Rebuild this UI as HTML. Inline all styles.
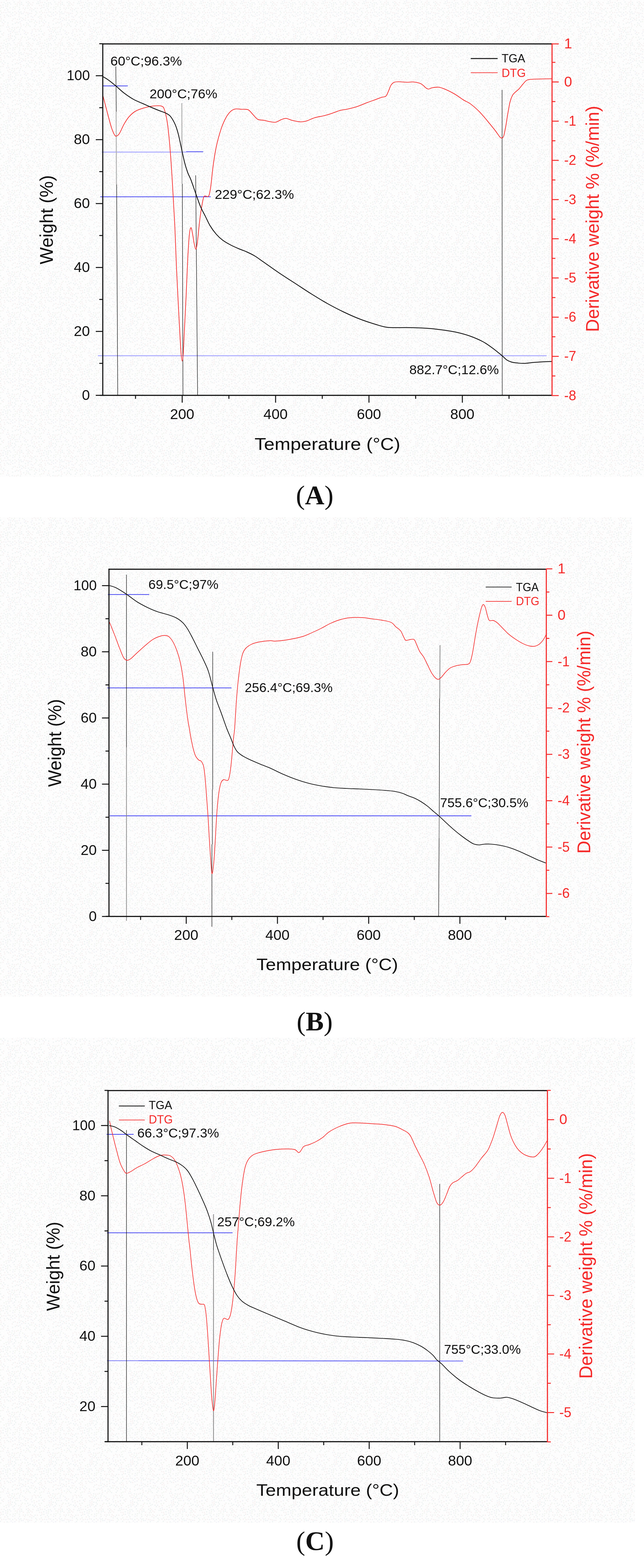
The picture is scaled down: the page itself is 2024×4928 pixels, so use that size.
<!DOCTYPE html>
<html><head><meta charset="utf-8"><title>TGA / DTG curves</title>
<style>
html,body{margin:0;padding:0;background:#fff;}
body{width:2024px;height:4928px;overflow:hidden;}
svg{display:block;}
text{white-space:pre;}
</style></head><body>
<svg width="2024" height="4928" viewBox="0 0 2024 4928">
<defs><pattern id="nz" width="128" height="128" patternUnits="userSpaceOnUse"><rect width="128" height="128" fill="#fdfdfd"/><circle cx="57.9" cy="71.7" r="1.9" fill="#ebf1f1"/><circle cx="118.3" cy="59.6" r="1.9" fill="#ffffff"/><circle cx="65.0" cy="75.2" r="1.9" fill="#f6efef"/><circle cx="23.6" cy="65.5" r="1.9" fill="#ffffff"/><circle cx="80.6" cy="101.5" r="1.9" fill="#f5f0f0"/><circle cx="12.0" cy="38.8" r="1.9" fill="#f5f0f0"/><circle cx="11.6" cy="103.6" r="1.9" fill="#f6efef"/><circle cx="88.8" cy="5.4" r="1.9" fill="#f5f0f0"/><circle cx="125.7" cy="123.5" r="1.9" fill="#f6efef"/><circle cx="-2.3" cy="123.5" r="1.9" fill="#f6efef"/><circle cx="83.7" cy="78.8" r="1.9" fill="#f0f4ee"/><circle cx="20.2" cy="1.9" r="1.9" fill="#f5f0f0"/><circle cx="20.2" cy="129.9" r="1.9" fill="#f5f0f0"/><circle cx="67.6" cy="7.6" r="1.9" fill="#ebf1f1"/><circle cx="24.3" cy="31.0" r="1.9" fill="#edf2f2"/><circle cx="3.9" cy="59.4" r="1.9" fill="#f6efef"/><circle cx="56.4" cy="107.8" r="1.9" fill="#f0f4ee"/><circle cx="66.4" cy="82.0" r="1.9" fill="#f6efef"/><circle cx="58.5" cy="35.6" r="1.9" fill="#f0f0f6"/><circle cx="107.5" cy="90.6" r="1.9" fill="#f5f0f0"/><circle cx="40.4" cy="29.4" r="1.9" fill="#f0f0f6"/><circle cx="37.0" cy="9.0" r="1.9" fill="#ffffff"/><circle cx="98.1" cy="51.3" r="1.9" fill="#f0f0f6"/><circle cx="108.4" cy="49.5" r="1.9" fill="#f5f0f0"/><circle cx="122.6" cy="108.5" r="1.9" fill="#f0f0f6"/><circle cx="0.1" cy="26.8" r="1.9" fill="#ebf1f1"/><circle cx="128.1" cy="26.8" r="1.9" fill="#ebf1f1"/><circle cx="125.5" cy="50.9" r="1.9" fill="#f0f4ee"/><circle cx="-2.5" cy="50.9" r="1.9" fill="#f0f4ee"/><circle cx="9.3" cy="80.6" r="1.9" fill="#f5f0f0"/><circle cx="99.6" cy="34.5" r="1.9" fill="#edf2f2"/><circle cx="123.4" cy="97.0" r="1.9" fill="#edf2f2"/><circle cx="15.1" cy="31.5" r="1.9" fill="#f5f0f0"/><circle cx="12.9" cy="7.7" r="1.9" fill="#edf2f2"/><circle cx="102.0" cy="22.7" r="1.9" fill="#ffffff"/><circle cx="71.6" cy="57.3" r="1.9" fill="#ebf1f1"/><circle cx="24.4" cy="93.7" r="1.9" fill="#f6efef"/><circle cx="16.8" cy="82.4" r="1.9" fill="#ffffff"/><circle cx="14.9" cy="53.9" r="1.9" fill="#f5f0f0"/><circle cx="124.3" cy="102.8" r="1.9" fill="#ffffff"/><circle cx="38.9" cy="113.3" r="1.9" fill="#ebf1f1"/><circle cx="27.0" cy="50.5" r="1.9" fill="#ebf1f1"/><circle cx="109.4" cy="82.2" r="1.9" fill="#ebf1f1"/><circle cx="12.8" cy="126.6" r="1.9" fill="#f0f4ee"/><circle cx="12.8" cy="-1.4" r="1.9" fill="#f0f4ee"/><circle cx="98.9" cy="42.1" r="1.9" fill="#f5f0f0"/><circle cx="11.5" cy="74.6" r="1.9" fill="#f6efef"/><circle cx="31.1" cy="77.0" r="1.9" fill="#ffffff"/><circle cx="47.6" cy="58.0" r="1.9" fill="#f6efef"/><circle cx="73.5" cy="110.9" r="1.9" fill="#ffffff"/><circle cx="23.4" cy="19.7" r="1.9" fill="#f0f4ee"/><circle cx="116.3" cy="104.7" r="1.9" fill="#ffffff"/><circle cx="31.9" cy="24.3" r="1.9" fill="#f0f4ee"/><circle cx="94.6" cy="120.4" r="1.9" fill="#edf2f2"/><circle cx="25.2" cy="121.6" r="1.9" fill="#edf2f2"/><circle cx="112.9" cy="77.3" r="1.9" fill="#edf2f2"/><circle cx="53.9" cy="13.3" r="1.9" fill="#f6efef"/><circle cx="5.0" cy="123.2" r="1.9" fill="#ffffff"/><circle cx="30.5" cy="90.2" r="1.9" fill="#f6efef"/><circle cx="32.9" cy="105.4" r="1.9" fill="#edf2f2"/><circle cx="76.3" cy="37.6" r="1.9" fill="#f5f0f0"/><circle cx="8.8" cy="29.2" r="1.9" fill="#ffffff"/><circle cx="117.4" cy="26.1" r="1.9" fill="#f6efef"/><circle cx="2.1" cy="34.5" r="1.9" fill="#f0f4ee"/><circle cx="130.1" cy="34.5" r="1.9" fill="#f0f4ee"/><circle cx="57.1" cy="7.7" r="1.9" fill="#f6efef"/><circle cx="22.6" cy="47.2" r="1.9" fill="#edf2f2"/><circle cx="73.2" cy="16.8" r="1.9" fill="#f6efef"/><circle cx="46.4" cy="114.0" r="1.9" fill="#edf2f2"/><circle cx="125.5" cy="84.1" r="1.9" fill="#f0f4ee"/><circle cx="-2.5" cy="84.1" r="1.9" fill="#f0f4ee"/><circle cx="88.5" cy="74.8" r="1.9" fill="#f0f0f6"/><circle cx="2.3" cy="116.5" r="1.9" fill="#f0f4ee"/><circle cx="130.3" cy="116.5" r="1.9" fill="#f0f4ee"/><circle cx="89.7" cy="123.2" r="1.9" fill="#edf2f2"/><circle cx="2.7" cy="81.4" r="1.9" fill="#f0f4ee"/><circle cx="130.7" cy="81.4" r="1.9" fill="#f0f4ee"/><circle cx="61.7" cy="93.5" r="1.9" fill="#edf2f2"/><circle cx="40.8" cy="127.9" r="1.9" fill="#f0f0f6"/><circle cx="40.8" cy="-0.1" r="1.9" fill="#f0f0f6"/><circle cx="94.3" cy="90.1" r="1.9" fill="#ffffff"/><circle cx="101.5" cy="117.1" r="1.9" fill="#ffffff"/><circle cx="45.0" cy="87.7" r="1.9" fill="#f5f0f0"/><circle cx="115.3" cy="111.5" r="1.9" fill="#f6efef"/><circle cx="53.4" cy="101.2" r="1.9" fill="#f5f0f0"/><circle cx="80.0" cy="48.9" r="1.9" fill="#edf2f2"/><circle cx="74.6" cy="77.9" r="1.9" fill="#edf2f2"/><circle cx="94.1" cy="74.4" r="1.9" fill="#ffffff"/><circle cx="10.7" cy="96.0" r="1.9" fill="#ffffff"/><circle cx="61.6" cy="29.5" r="1.9" fill="#edf2f2"/><circle cx="89.4" cy="63.6" r="1.9" fill="#edf2f2"/><circle cx="78.7" cy="117.8" r="1.9" fill="#f0f4ee"/><circle cx="32.7" cy="1.4" r="1.9" fill="#ffffff"/><circle cx="32.7" cy="129.4" r="1.9" fill="#ffffff"/><circle cx="38.5" cy="86.8" r="1.9" fill="#ebf1f1"/><circle cx="115.9" cy="84.5" r="1.9" fill="#ffffff"/><circle cx="56.6" cy="114.1" r="1.9" fill="#ffffff"/><circle cx="17.4" cy="63.5" r="1.9" fill="#ffffff"/><circle cx="107.1" cy="108.6" r="1.9" fill="#f0f4ee"/><circle cx="80.1" cy="63.2" r="1.9" fill="#edf2f2"/><circle cx="40.4" cy="107.4" r="1.9" fill="#ffffff"/><circle cx="125.7" cy="57.9" r="1.9" fill="#f6efef"/><circle cx="-2.3" cy="57.9" r="1.9" fill="#f6efef"/><circle cx="111.7" cy="5.3" r="1.9" fill="#ffffff"/><circle cx="39.6" cy="101.3" r="1.9" fill="#f6efef"/><circle cx="2.4" cy="17.4" r="1.9" fill="#f6efef"/><circle cx="130.4" cy="17.4" r="1.9" fill="#f6efef"/><circle cx="106.2" cy="30.4" r="1.9" fill="#edf2f2"/><circle cx="80.5" cy="57.1" r="1.9" fill="#f6efef"/><circle cx="80.6" cy="83.8" r="1.9" fill="#f5f0f0"/><circle cx="103.3" cy="122.7" r="1.9" fill="#ebf1f1"/><circle cx="87.6" cy="25.5" r="1.9" fill="#f0f4ee"/><circle cx="60.8" cy="22.9" r="1.9" fill="#f0f4ee"/><circle cx="34.9" cy="44.3" r="1.9" fill="#f0f0f6"/><circle cx="116.0" cy="11.2" r="1.9" fill="#edf2f2"/><circle cx="119.4" cy="92.5" r="1.9" fill="#f6efef"/><circle cx="48.2" cy="72.8" r="1.9" fill="#ebf1f1"/><circle cx="92.4" cy="104.7" r="1.9" fill="#ffffff"/><circle cx="82.1" cy="91.9" r="1.9" fill="#ffffff"/><circle cx="27.3" cy="115.2" r="1.9" fill="#f6efef"/><circle cx="68.7" cy="101.2" r="1.9" fill="#ffffff"/><circle cx="62.4" cy="3.6" r="1.9" fill="#f6efef"/><circle cx="103.6" cy="8.2" r="1.9" fill="#f5f0f0"/><circle cx="18.0" cy="19.0" r="1.9" fill="#f0f0f6"/><circle cx="121.5" cy="11.0" r="1.9" fill="#edf2f2"/><circle cx="37.1" cy="93.3" r="1.9" fill="#f0f4ee"/><circle cx="108.0" cy="71.7" r="1.9" fill="#f0f4ee"/><circle cx="39.9" cy="48.8" r="1.9" fill="#f0f0f6"/><circle cx="108.2" cy="115.3" r="1.9" fill="#f5f0f0"/><circle cx="26.7" cy="108.9" r="1.9" fill="#f0f0f6"/><circle cx="124.0" cy="67.1" r="1.9" fill="#f0f0f6"/><circle cx="73.3" cy="25.7" r="1.9" fill="#f5f0f0"/><circle cx="68.6" cy="64.4" r="1.9" fill="#f0f0f6"/><circle cx="77.5" cy="3.6" r="1.9" fill="#ffffff"/><circle cx="122.5" cy="118.2" r="1.9" fill="#f0f4ee"/><circle cx="34.5" cy="60.6" r="1.9" fill="#ffffff"/><circle cx="61.0" cy="40.6" r="1.9" fill="#edf2f2"/><circle cx="24.5" cy="79.1" r="1.9" fill="#f6efef"/><circle cx="118.4" cy="16.6" r="1.9" fill="#ffffff"/><circle cx="99.7" cy="2.9" r="1.9" fill="#ffffff"/><circle cx="99.7" cy="130.9" r="1.9" fill="#ffffff"/><circle cx="87.9" cy="41.2" r="1.9" fill="#f6efef"/><circle cx="45.5" cy="79.3" r="1.9" fill="#ffffff"/><circle cx="67.8" cy="20.4" r="1.9" fill="#ffffff"/><circle cx="115.5" cy="40.4" r="1.9" fill="#f0f4ee"/><circle cx="101.1" cy="16.1" r="1.9" fill="#f6efef"/><circle cx="51.6" cy="87.7" r="1.9" fill="#f5f0f0"/><circle cx="87.3" cy="116.7" r="1.9" fill="#edf2f2"/><circle cx="64.4" cy="87.8" r="1.9" fill="#edf2f2"/><circle cx="24.2" cy="9.0" r="1.9" fill="#edf2f2"/><circle cx="107.5" cy="126.8" r="1.9" fill="#ebf1f1"/><circle cx="107.5" cy="-1.2" r="1.9" fill="#ebf1f1"/><circle cx="41.8" cy="59.8" r="1.9" fill="#edf2f2"/><circle cx="66.0" cy="55.1" r="1.9" fill="#f5f0f0"/><circle cx="23.2" cy="58.1" r="1.9" fill="#ffffff"/><circle cx="90.2" cy="110.2" r="1.9" fill="#ffffff"/><circle cx="33.1" cy="116.6" r="1.9" fill="#f6efef"/><circle cx="95.3" cy="99.6" r="1.9" fill="#ffffff"/><circle cx="88.9" cy="98.2" r="1.9" fill="#ffffff"/><circle cx="92.5" cy="9.0" r="1.9" fill="#f5f0f0"/><circle cx="1.4" cy="45.5" r="1.9" fill="#edf2f2"/><circle cx="129.4" cy="45.5" r="1.9" fill="#edf2f2"/><circle cx="68.2" cy="49.9" r="1.9" fill="#ffffff"/><circle cx="125.5" cy="2.9" r="1.9" fill="#f0f0f6"/><circle cx="125.5" cy="130.9" r="1.9" fill="#f0f0f6"/><circle cx="-2.5" cy="2.9" r="1.9" fill="#f0f0f6"/><circle cx="-2.5" cy="130.9" r="1.9" fill="#f0f0f6"/><circle cx="32.8" cy="51.4" r="1.9" fill="#f6efef"/><circle cx="48.1" cy="12.6" r="1.9" fill="#f0f4ee"/><circle cx="123.8" cy="72.7" r="1.9" fill="#edf2f2"/><circle cx="76.5" cy="97.2" r="1.9" fill="#f0f0f6"/><circle cx="121.0" cy="53.9" r="1.9" fill="#edf2f2"/><circle cx="46.8" cy="36.6" r="1.9" fill="#f5f0f0"/><circle cx="83.9" cy="71.8" r="1.9" fill="#edf2f2"/><circle cx="20.0" cy="96.6" r="1.9" fill="#ffffff"/><circle cx="9.4" cy="115.9" r="1.9" fill="#ffffff"/><circle cx="55.0" cy="61.1" r="1.9" fill="#f6efef"/><circle cx="124.6" cy="31.2" r="1.9" fill="#ffffff"/><circle cx="67.0" cy="120.0" r="1.9" fill="#f6efef"/><circle cx="56.7" cy="85.5" r="1.9" fill="#f0f4ee"/><circle cx="99.6" cy="67.9" r="1.9" fill="#f0f4ee"/><circle cx="94.0" cy="30.5" r="1.9" fill="#f5f0f0"/><circle cx="14.6" cy="114.3" r="1.9" fill="#ffffff"/><circle cx="100.4" cy="80.0" r="1.9" fill="#ffffff"/><circle cx="96.4" cy="24.3" r="1.9" fill="#f6efef"/><circle cx="5.1" cy="7.8" r="1.9" fill="#f6efef"/><circle cx="79.8" cy="13.1" r="1.9" fill="#ffffff"/><circle cx="11.1" cy="86.6" r="1.9" fill="#ffffff"/><circle cx="27.0" cy="44.0" r="1.9" fill="#ffffff"/><circle cx="9.5" cy="15.3" r="1.9" fill="#ebf1f1"/><circle cx="103.7" cy="47.2" r="1.9" fill="#ffffff"/><circle cx="83.7" cy="126.6" r="1.9" fill="#f5f0f0"/><circle cx="83.7" cy="-1.4" r="1.9" fill="#f5f0f0"/><circle cx="41.6" cy="70.2" r="1.9" fill="#ffffff"/><circle cx="54.7" cy="47.3" r="1.9" fill="#ffffff"/><circle cx="27.3" cy="84.7" r="1.9" fill="#edf2f2"/><circle cx="36.2" cy="18.3" r="1.9" fill="#ffffff"/><circle cx="45.8" cy="92.9" r="1.9" fill="#f0f4ee"/><circle cx="117.6" cy="120.3" r="1.9" fill="#ffffff"/><circle cx="46.8" cy="46.5" r="1.9" fill="#f0f0f6"/><circle cx="25.0" cy="72.2" r="1.9" fill="#edf2f2"/><circle cx="112.8" cy="36.0" r="1.9" fill="#ebf1f1"/><circle cx="2.8" cy="66.0" r="1.9" fill="#f0f4ee"/><circle cx="130.8" cy="66.0" r="1.9" fill="#f0f4ee"/><circle cx="69.7" cy="72.6" r="1.9" fill="#ffffff"/><circle cx="94.3" cy="115.1" r="1.9" fill="#ffffff"/><circle cx="83.1" cy="31.4" r="1.9" fill="#ffffff"/><circle cx="28.2" cy="98.0" r="1.9" fill="#f5f0f0"/><circle cx="63.2" cy="68.8" r="1.9" fill="#f0f0f6"/><circle cx="109.2" cy="103.2" r="1.9" fill="#ffffff"/><circle cx="102.7" cy="54.0" r="1.9" fill="#f0f0f6"/><circle cx="53.8" cy="18.7" r="1.9" fill="#f0f4ee"/><circle cx="94.9" cy="126.8" r="1.9" fill="#ffffff"/><circle cx="94.9" cy="-1.2" r="1.9" fill="#ffffff"/><circle cx="48.1" cy="21.5" r="1.9" fill="#f0f4ee"/><circle cx="104.6" cy="61.4" r="1.9" fill="#f5f0f0"/><circle cx="47.6" cy="102.0" r="1.9" fill="#edf2f2"/><circle cx="111.3" cy="66.1" r="1.9" fill="#ebf1f1"/><circle cx="34.1" cy="68.4" r="1.9" fill="#ffffff"/><circle cx="61.5" cy="60.0" r="1.9" fill="#ebf1f1"/><circle cx="20.2" cy="106.5" r="1.9" fill="#ffffff"/><circle cx="39.9" cy="39.8" r="1.9" fill="#ebf1f1"/><circle cx="59.1" cy="123.8" r="1.9" fill="#f0f4ee"/><circle cx="93.6" cy="42.2" r="1.9" fill="#f0f0f6"/><circle cx="18.0" cy="12.1" r="1.9" fill="#ebf1f1"/><circle cx="98.2" cy="105.1" r="1.9" fill="#f0f0f6"/><circle cx="52.8" cy="2.0" r="1.9" fill="#ffffff"/><circle cx="52.8" cy="130.0" r="1.9" fill="#ffffff"/><circle cx="13.6" cy="48.3" r="1.9" fill="#f5f0f0"/><circle cx="105.6" cy="78.3" r="1.9" fill="#ffffff"/><circle cx="115.6" cy="70.2" r="1.9" fill="#f6efef"/><circle cx="45.1" cy="64.1" r="1.9" fill="#ffffff"/><circle cx="18.1" cy="91.3" r="1.9" fill="#ffffff"/><circle cx="80.3" cy="25.3" r="1.9" fill="#edf2f2"/><circle cx="73.8" cy="89.2" r="1.9" fill="#ffffff"/><circle cx="42.1" cy="118.9" r="1.9" fill="#ffffff"/><circle cx="71.7" cy="33.8" r="1.9" fill="#ffffff"/><circle cx="116.4" cy="127.0" r="1.9" fill="#f5f0f0"/><circle cx="116.4" cy="-1.0" r="1.9" fill="#f5f0f0"/><circle cx="4.1" cy="23.0" r="1.9" fill="#f6efef"/><circle cx="72.7" cy="42.5" r="1.9" fill="#f0f0f6"/><circle cx="85.9" cy="18.5" r="1.9" fill="#f5f0f0"/><circle cx="60.1" cy="52.7" r="1.9" fill="#f0f0f6"/><circle cx="52.4" cy="55.5" r="1.9" fill="#ffffff"/><circle cx="76.0" cy="8.9" r="1.9" fill="#ffffff"/><circle cx="67.4" cy="30.6" r="1.9" fill="#ffffff"/><circle cx="30.2" cy="8.8" r="1.9" fill="#ebf1f1"/><circle cx="15.8" cy="68.8" r="1.9" fill="#edf2f2"/><circle cx="31.2" cy="38.3" r="1.9" fill="#edf2f2"/><circle cx="91.3" cy="17.3" r="1.9" fill="#f0f4ee"/><circle cx="35.4" cy="81.9" r="1.9" fill="#ffffff"/><circle cx="49.2" cy="118.9" r="1.9" fill="#ebf1f1"/><circle cx="64.7" cy="108.2" r="1.9" fill="#f0f0f6"/><circle cx="121.8" cy="22.3" r="1.9" fill="#ffffff"/><circle cx="77.8" cy="30.1" r="1.9" fill="#f5f0f0"/><circle cx="18.7" cy="39.8" r="1.9" fill="#f0f0f6"/><circle cx="5.4" cy="40.2" r="1.9" fill="#f6efef"/><circle cx="7.8" cy="52.6" r="1.9" fill="#ffffff"/><circle cx="46.6" cy="27.7" r="1.9" fill="#f0f4ee"/><circle cx="29.4" cy="32.4" r="1.9" fill="#ffffff"/><circle cx="125.6" cy="78.2" r="1.9" fill="#ffffff"/><circle cx="-2.4" cy="78.2" r="1.9" fill="#ffffff"/><circle cx="83.2" cy="7.5" r="1.9" fill="#edf2f2"/><circle cx="50.3" cy="107.9" r="1.9" fill="#ebf1f1"/><circle cx="21.0" cy="26.1" r="1.9" fill="#edf2f2"/><circle cx="110.4" cy="26.2" r="1.9" fill="#edf2f2"/><circle cx="88.5" cy="46.4" r="1.9" fill="#ebf1f1"/><circle cx="119.9" cy="46.0" r="1.9" fill="#ffffff"/><circle cx="40.0" cy="54.3" r="1.9" fill="#ffffff"/><circle cx="124.9" cy="38.2" r="1.9" fill="#f5f0f0"/><circle cx="21.3" cy="85.1" r="1.9" fill="#f0f0f6"/><circle cx="19.3" cy="74.6" r="1.9" fill="#ffffff"/><circle cx="89.0" cy="87.9" r="1.9" fill="#ffffff"/><circle cx="41.6" cy="22.8" r="1.9" fill="#edf2f2"/><circle cx="98.8" cy="61.5" r="1.9" fill="#f5f0f0"/><circle cx="42.7" cy="97.2" r="1.9" fill="#ebf1f1"/><circle cx="90.5" cy="79.7" r="1.9" fill="#f0f4ee"/><circle cx="124.2" cy="17.1" r="1.9" fill="#f5f0f0"/><circle cx="88.0" cy="53.7" r="1.9" fill="#f6efef"/><circle cx="6.2" cy="91.3" r="1.9" fill="#ffffff"/><circle cx="62.5" cy="15.4" r="1.9" fill="#edf2f2"/><circle cx="29.1" cy="61.7" r="1.9" fill="#ffffff"/><circle cx="10.0" cy="23.4" r="1.9" fill="#ebf1f1"/><circle cx="7.4" cy="70.5" r="1.9" fill="#f0f0f6"/><circle cx="101.4" cy="94.1" r="1.9" fill="#f6efef"/><circle cx="105.9" cy="98.3" r="1.9" fill="#ffffff"/><circle cx="51.6" cy="41.2" r="1.9" fill="#f5f0f0"/><circle cx="127.2" cy="8.3" r="1.9" fill="#f5f0f0"/><circle cx="-0.8" cy="8.3" r="1.9" fill="#f5f0f0"/><circle cx="70.3" cy="115.9" r="1.9" fill="#f0f4ee"/><circle cx="112.2" cy="93.1" r="1.9" fill="#f5f0f0"/><circle cx="75.6" cy="69.9" r="1.9" fill="#ffffff"/><circle cx="60.1" cy="46.3" r="1.9" fill="#f5f0f0"/><circle cx="27.9" cy="126.7" r="1.9" fill="#f0f0f6"/><circle cx="27.9" cy="-1.3" r="1.9" fill="#f0f0f6"/><circle cx="2.0" cy="110.0" r="1.9" fill="#ffffff"/><circle cx="130.0" cy="110.0" r="1.9" fill="#ffffff"/><circle cx="38.6" cy="64.9" r="1.9" fill="#f5f0f0"/><circle cx="65.6" cy="37.6" r="1.9" fill="#ebf1f1"/><circle cx="108.9" cy="13.4" r="1.9" fill="#ffffff"/><circle cx="108.8" cy="19.8" r="1.9" fill="#ffffff"/><circle cx="52.0" cy="78.4" r="1.9" fill="#ffffff"/><circle cx="82.3" cy="108.5" r="1.9" fill="#ebf1f1"/><circle cx="6.3" cy="107.0" r="1.9" fill="#ebf1f1"/><circle cx="76.0" cy="123.0" r="1.9" fill="#ffffff"/><circle cx="66.1" cy="96.5" r="1.9" fill="#ffffff"/><circle cx="106.4" cy="42.0" r="1.9" fill="#ffffff"/><circle cx="74.7" cy="61.5" r="1.9" fill="#f6efef"/><circle cx="96.4" cy="13.1" r="1.9" fill="#f6efef"/><circle cx="100.4" cy="28.0" r="1.9" fill="#f6efef"/><circle cx="93.9" cy="68.4" r="1.9" fill="#ebf1f1"/><circle cx="14.1" cy="120.4" r="1.9" fill="#ffffff"/><circle cx="62.2" cy="10.1" r="1.9" fill="#f6efef"/><circle cx="111.2" cy="122.5" r="1.9" fill="#f0f0f6"/><circle cx="1.9" cy="98.6" r="1.9" fill="#ebf1f1"/><circle cx="129.9" cy="98.6" r="1.9" fill="#ebf1f1"/><circle cx="67.3" cy="42.9" r="1.9" fill="#ebf1f1"/><circle cx="101.1" cy="100.1" r="1.9" fill="#f0f0f6"/><circle cx="44.5" cy="6.3" r="1.9" fill="#ebf1f1"/><circle cx="58.8" cy="77.2" r="1.9" fill="#ffffff"/><circle cx="65.1" cy="126.0" r="1.9" fill="#f5f0f0"/><circle cx="65.1" cy="-2.0" r="1.9" fill="#f5f0f0"/><circle cx="11.5" cy="63.7" r="1.9" fill="#edf2f2"/><circle cx="100.5" cy="111.8" r="1.9" fill="#f0f0f6"/><circle cx="90.4" cy="58.4" r="1.9" fill="#ffffff"/><circle cx="9.1" cy="34.5" r="1.9" fill="#ffffff"/><circle cx="112.6" cy="58.2" r="1.9" fill="#ffffff"/><circle cx="2.1" cy="53.3" r="1.9" fill="#f6efef"/><circle cx="130.1" cy="53.3" r="1.9" fill="#f6efef"/><circle cx="19.2" cy="123.4" r="1.9" fill="#f0f4ee"/><circle cx="39.7" cy="75.8" r="1.9" fill="#edf2f2"/><circle cx="119.7" cy="5.6" r="1.9" fill="#edf2f2"/><circle cx="10.0" cy="110.7" r="1.9" fill="#f6efef"/><circle cx="24.4" cy="14.4" r="1.9" fill="#f0f4ee"/><circle cx="77.2" cy="105.5" r="1.9" fill="#f0f0f6"/><circle cx="47.9" cy="52.6" r="1.9" fill="#ffffff"/><circle cx="25.8" cy="37.2" r="1.9" fill="#f5f0f0"/><circle cx="45.3" cy="124.5" r="1.9" fill="#ebf1f1"/><circle cx="60.5" cy="99.6" r="1.9" fill="#f0f0f6"/><circle cx="52.8" cy="69.9" r="1.9" fill="#f6efef"/><circle cx="112.5" cy="46.1" r="1.9" fill="#ebf1f1"/><circle cx="33.7" cy="13.1" r="1.9" fill="#f0f0f6"/><circle cx="62.5" cy="114.4" r="1.9" fill="#ffffff"/><circle cx="50.9" cy="31.3" r="1.9" fill="#ffffff"/><circle cx="114.8" cy="50.8" r="1.9" fill="#ffffff"/><circle cx="88.4" cy="12.5" r="1.9" fill="#ebf1f1"/><circle cx="68.2" cy="13.2" r="1.9" fill="#ebf1f1"/><circle cx="87.3" cy="103.5" r="1.9" fill="#f6efef"/><circle cx="2.0" cy="73.8" r="1.9" fill="#ffffff"/><circle cx="130.0" cy="73.8" r="1.9" fill="#ffffff"/><circle cx="33.0" cy="111.3" r="1.9" fill="#f6efef"/><circle cx="82.8" cy="39.7" r="1.9" fill="#f6efef"/><circle cx="22.8" cy="101.0" r="1.9" fill="#ffffff"/><circle cx="36.3" cy="120.8" r="1.9" fill="#edf2f2"/><circle cx="31.2" cy="121.9" r="1.9" fill="#f6efef"/><circle cx="71.3" cy="93.8" r="1.9" fill="#f0f4ee"/><circle cx="94.7" cy="83.1" r="1.9" fill="#ebf1f1"/><circle cx="7.1" cy="100.8" r="1.9" fill="#ffffff"/><circle cx="74.9" cy="51.1" r="1.9" fill="#ffffff"/><circle cx="127.3" cy="91.4" r="1.9" fill="#f0f4ee"/><circle cx="-0.7" cy="91.4" r="1.9" fill="#f0f4ee"/><circle cx="33.7" cy="98.9" r="1.9" fill="#f0f0f6"/><circle cx="112.9" cy="98.7" r="1.9" fill="#f5f0f0"/></pattern></defs>
<rect x="0" y="0" width="2024" height="1498.5" fill="url(#nz)"/>
<line x1="324.0" y1="270.0" x2="401.5" y2="270.0" stroke="#2a2af0" stroke-width="2"/>
<line x1="320.0" y1="478.0" x2="585.0" y2="478.0" stroke="#aaaaff" stroke-width="3"/>
<line x1="585.0" y1="477.0" x2="638.5" y2="477.0" stroke="#2a2af0" stroke-width="2"/>
<line x1="315.0" y1="618.5" x2="662.5" y2="618.5" stroke="#2a2af0" stroke-width="2"/>
<line x1="307.5" y1="1118.0" x2="1718.0" y2="1118.0" stroke="#aaaaff" stroke-width="3"/>
<line x1="364.0" y1="209.0" x2="365.5" y2="351.0" stroke="#111111" stroke-width="1.5"/>
<line x1="365.0" y1="351.0" x2="366.0" y2="580.0" stroke="#b4b4b4" stroke-width="3"/>
<line x1="366.5" y1="580.0" x2="370.0" y2="1242.0" stroke="#111111" stroke-width="1.5"/>
<line x1="571.5" y1="324.0" x2="572.0" y2="577.5" stroke="#b4b4b4" stroke-width="3"/>
<line x1="573.0" y1="577.5" x2="575.0" y2="1242.0" stroke="#111111" stroke-width="1.5"/>
<line x1="615.0" y1="551.0" x2="621.0" y2="1242.0" stroke="#111111" stroke-width="1.5"/>
<line x1="1578.0" y1="282.5" x2="1578.5" y2="1242.0" stroke="#111111" stroke-width="1.5"/>
<path d="M324.0,302.5 C325.8,309.6 330.7,328.8 335.0,345.0 C339.3,361.2 345.8,386.8 350.0,400.0 C354.2,413.2 357.3,419.4 360.0,424.0 C362.7,428.6 363.5,428.2 366.0,427.5 C368.5,426.8 371.0,426.2 375.0,420.0 C379.0,413.8 385.0,398.8 390.0,390.0 C395.0,381.2 399.2,374.2 405.0,367.5 C410.8,360.8 417.5,354.6 425.0,350.0 C432.5,345.4 442.5,342.5 450.0,340.0 C457.5,337.5 463.3,336.2 470.0,335.0 C476.7,333.8 483.8,332.8 490.0,332.5 C496.2,332.2 503.2,331.8 507.5,333.5 C511.8,335.2 513.1,334.8 516.0,342.5 C518.9,350.2 522.2,362.9 525.0,380.0 C527.8,397.1 530.0,417.5 532.5,445.0 C535.0,472.5 537.8,511.0 540.0,545.0 C542.2,579.0 544.3,619.2 546.0,649.0 C547.7,678.8 548.5,690.7 550.0,724.0 C551.5,757.3 553.3,811.5 555.0,849.0 C556.7,886.5 558.3,916.5 560.0,949.0 C561.7,981.5 563.5,1017.3 565.0,1044.0 C566.5,1070.7 567.8,1093.8 569.0,1109.0 C570.2,1124.2 571.3,1135.0 572.5,1135.0 C573.7,1135.0 574.8,1126.7 576.0,1109.0 C577.2,1091.3 578.5,1059.0 580.0,1029.0 C581.5,999.0 583.3,964.8 585.0,929.0 C586.7,893.2 588.3,845.7 590.0,814.0 C591.7,782.3 593.3,755.4 595.0,739.0 C596.7,722.6 598.3,716.3 600.0,715.5 C601.7,714.7 603.3,725.9 605.0,734.0 C606.7,742.1 608.3,755.8 610.0,764.0 C611.7,772.2 613.3,783.0 615.0,783.0 C616.7,783.0 617.9,778.8 620.0,764.0 C622.1,749.2 625.2,713.2 627.5,694.0 C629.8,674.8 631.9,661.3 634.0,649.0 C636.1,636.7 638.2,625.5 640.0,620.0 C641.8,614.5 642.3,616.7 645.0,616.0 C647.7,615.3 653.1,621.2 656.0,616.0 C658.9,610.8 660.2,601.0 662.5,585.0 C664.8,569.0 667.1,540.8 670.0,520.0 C672.9,499.2 675.8,479.2 680.0,460.0 C684.2,440.8 690.0,420.0 695.0,405.0 C700.0,390.0 705.0,379.2 710.0,370.0 C715.0,360.8 720.0,354.6 725.0,350.0 C730.0,345.4 734.2,343.6 740.0,342.5 C745.8,341.4 753.3,343.1 760.0,343.5 C766.7,343.9 774.2,342.2 780.0,345.0 C785.8,347.8 790.0,355.0 795.0,360.0 C800.0,365.0 804.3,372.0 810.0,375.0 C815.7,378.0 822.5,376.8 829.0,378.0 C835.5,379.2 842.8,381.5 849.0,382.5 C855.2,383.5 860.7,385.1 866.5,384.0 C872.3,382.9 878.6,378.0 884.0,376.0 C889.4,374.0 893.2,371.6 899.0,372.0 C904.8,372.4 911.5,376.7 919.0,378.5 C926.5,380.3 936.5,382.8 944.0,383.0 C951.5,383.2 956.5,382.2 964.0,380.0 C971.5,377.8 979.8,372.8 989.0,370.0 C998.2,367.2 1009.8,365.8 1019.0,363.5 C1028.2,361.2 1035.7,358.8 1044.0,356.0 C1052.3,353.2 1061.5,349.1 1069.0,347.0 C1076.5,344.9 1080.7,345.3 1089.0,343.5 C1097.3,341.7 1108.2,339.5 1119.0,336.0 C1129.8,332.5 1144.0,326.2 1154.0,322.5 C1164.0,318.8 1171.5,316.2 1179.0,313.5 C1186.5,310.8 1193.3,307.9 1199.0,306.0 C1204.7,304.1 1209.2,305.5 1213.0,302.0 C1216.8,298.5 1218.8,290.8 1221.5,285.0 C1224.2,279.2 1226.1,271.9 1229.0,267.5 C1231.9,263.1 1234.8,260.2 1239.0,258.5 C1243.2,256.8 1247.3,257.0 1254.0,257.0 C1260.7,257.0 1271.5,258.4 1279.0,258.5 C1286.5,258.6 1292.3,257.0 1299.0,257.5 C1305.7,258.0 1314.0,259.8 1319.0,261.5 C1324.0,263.2 1325.7,265.0 1329.0,267.5 C1332.3,270.0 1336.1,274.4 1339.0,276.5 C1341.9,278.6 1343.3,280.1 1346.5,280.0 C1349.7,279.9 1352.8,277.0 1358.0,276.0 C1363.2,275.0 1371.3,273.3 1378.0,274.0 C1384.7,274.7 1389.7,276.5 1398.0,280.0 C1406.3,283.5 1418.0,289.2 1428.0,295.0 C1438.0,300.8 1449.7,309.8 1458.0,315.0 C1466.3,320.2 1469.7,319.8 1478.0,326.0 C1486.3,332.2 1498.0,342.2 1508.0,352.5 C1518.0,362.8 1529.7,377.5 1538.0,387.5 C1546.3,397.5 1552.6,405.4 1558.0,412.5 C1563.4,419.6 1567.3,426.4 1570.5,430.0 C1573.7,433.6 1574.9,434.4 1577.0,434.0 C1579.1,433.6 1581.0,433.2 1583.0,427.5 C1585.0,421.8 1586.9,411.2 1589.0,400.0 C1591.1,388.8 1593.2,373.3 1595.5,360.0 C1597.8,346.7 1600.5,330.0 1603.0,320.0 C1605.5,310.0 1608.0,304.8 1610.5,300.0 C1613.0,295.2 1614.7,294.3 1618.0,291.0 C1621.3,287.7 1626.3,284.3 1630.5,280.0 C1634.7,275.7 1639.2,269.3 1643.0,265.0 C1646.8,260.7 1649.7,256.5 1653.0,254.0 C1656.3,251.5 1657.2,250.9 1663.0,250.0 C1668.8,249.1 1676.2,248.9 1688.0,248.5 C1699.8,248.1 1726.3,247.7 1734.0,247.5" fill="none" stroke="#f52a2a" stroke-width="2.1" stroke-linejoin="round" stroke-linecap="butt"/>
<path d="M322.0,240.0 C325.0,241.8 333.0,246.0 340.0,251.0 C347.0,256.0 355.7,263.1 364.0,270.0 C372.3,276.9 380.7,285.4 390.0,292.5 C399.3,299.6 410.0,306.9 420.0,312.5 C430.0,318.1 441.7,322.2 450.0,326.0 C458.3,329.8 461.7,331.4 470.0,335.0 C478.3,338.6 491.7,344.2 500.0,347.5 C508.3,350.8 514.2,352.1 520.0,355.0 C525.8,357.9 530.0,359.2 535.0,365.0 C540.0,370.8 545.8,380.8 550.0,390.0 C554.2,399.2 556.7,407.5 560.0,420.0 C563.3,432.5 566.7,450.0 570.0,465.0 C573.3,480.0 576.7,497.1 580.0,510.0 C583.3,522.9 586.7,533.3 590.0,542.5 C593.3,551.7 595.8,554.2 600.0,565.0 C604.2,575.8 610.0,593.5 615.0,607.5 C620.0,621.5 625.0,637.1 630.0,649.0 C635.0,660.9 640.0,669.0 645.0,679.0 C650.0,689.0 654.2,699.4 660.0,709.0 C665.8,718.6 673.3,728.8 680.0,736.5 C686.7,744.2 692.5,749.4 700.0,755.0 C707.5,760.6 716.7,765.6 725.0,770.0 C733.3,774.4 741.7,777.9 750.0,781.5 C758.3,785.1 766.7,787.8 775.0,791.5 C783.3,795.2 791.0,798.6 800.0,804.0 C809.0,809.4 815.8,814.8 829.0,824.0 C842.2,833.2 862.3,847.8 879.0,859.0 C895.7,870.2 912.3,880.7 929.0,891.5 C945.7,902.3 962.3,913.6 979.0,924.0 C995.7,934.4 1012.3,944.7 1029.0,954.0 C1045.7,963.3 1062.3,972.0 1079.0,980.0 C1095.7,988.0 1112.3,995.5 1129.0,1002.0 C1145.7,1008.5 1164.0,1014.5 1179.0,1019.0 C1194.0,1023.5 1202.3,1027.2 1219.0,1029.0 C1235.7,1030.8 1260.7,1029.2 1279.0,1029.5 C1297.3,1029.8 1315.8,1030.4 1329.0,1031.0 C1342.2,1031.6 1346.5,1031.8 1358.0,1033.0 C1369.5,1034.2 1384.7,1036.0 1398.0,1038.0 C1411.3,1040.0 1424.7,1041.9 1438.0,1045.0 C1451.3,1048.1 1464.7,1051.7 1478.0,1056.5 C1491.3,1061.3 1506.3,1067.8 1518.0,1074.0 C1529.7,1080.2 1538.0,1086.7 1548.0,1094.0 C1558.0,1101.3 1570.5,1111.8 1578.0,1118.0 C1585.5,1124.2 1588.0,1128.2 1593.0,1131.5 C1598.0,1134.8 1602.2,1136.4 1608.0,1138.0 C1613.8,1139.6 1621.3,1140.3 1628.0,1141.0 C1634.7,1141.7 1639.7,1142.3 1648.0,1142.0 C1656.3,1141.7 1668.0,1139.8 1678.0,1139.0 C1688.0,1138.2 1698.7,1137.5 1708.0,1137.0 C1717.3,1136.5 1729.7,1136.2 1734.0,1136.0" fill="none" stroke="#111111" stroke-width="2.5" stroke-linejoin="round" stroke-linecap="butt"/>
<line x1="323.0" y1="136.3" x2="323.0" y2="1244.2" stroke="#111111" stroke-width="3.4"/>
<line x1="321.3" y1="138.0" x2="1735.0" y2="138.0" stroke="#111111" stroke-width="3.4"/>
<line x1="313.3" y1="1242.5" x2="1735.0" y2="1242.5" stroke="#111111" stroke-width="3.4"/>
<line x1="1735.0" y1="136.3" x2="1735.0" y2="1244.2" stroke="#f52a2a" stroke-width="3.4"/>
<line x1="301.0" y1="1242.5" x2="323.0" y2="1242.5" stroke="#111111" stroke-width="3.0"/>
<text x="282.5" y="1256.9" font-size="45" fill="#111111" text-anchor="end" font-family='"Liberation Sans", Arial, sans-serif' textLength="25.0" lengthAdjust="spacingAndGlyphs">0</text>
<line x1="312.0" y1="1142.0" x2="323.0" y2="1142.0" stroke="#111111" stroke-width="3.0"/>
<line x1="301.0" y1="1041.6" x2="323.0" y2="1041.6" stroke="#111111" stroke-width="3.0"/>
<text x="282.5" y="1056.0" font-size="45" fill="#111111" text-anchor="end" font-family='"Liberation Sans", Arial, sans-serif' textLength="50.5" lengthAdjust="spacingAndGlyphs">20</text>
<line x1="312.0" y1="941.1" x2="323.0" y2="941.1" stroke="#111111" stroke-width="3.0"/>
<line x1="301.0" y1="840.7" x2="323.0" y2="840.7" stroke="#111111" stroke-width="3.0"/>
<text x="282.5" y="855.1" font-size="45" fill="#111111" text-anchor="end" font-family='"Liberation Sans", Arial, sans-serif' textLength="50.5" lengthAdjust="spacingAndGlyphs">40</text>
<line x1="312.0" y1="740.2" x2="323.0" y2="740.2" stroke="#111111" stroke-width="3.0"/>
<line x1="301.0" y1="639.8" x2="323.0" y2="639.8" stroke="#111111" stroke-width="3.0"/>
<text x="282.5" y="654.2" font-size="45" fill="#111111" text-anchor="end" font-family='"Liberation Sans", Arial, sans-serif' textLength="50.5" lengthAdjust="spacingAndGlyphs">60</text>
<line x1="312.0" y1="539.4" x2="323.0" y2="539.4" stroke="#111111" stroke-width="3.0"/>
<line x1="301.0" y1="438.9" x2="323.0" y2="438.9" stroke="#111111" stroke-width="3.0"/>
<text x="282.5" y="453.3" font-size="45" fill="#111111" text-anchor="end" font-family='"Liberation Sans", Arial, sans-serif' textLength="50.5" lengthAdjust="spacingAndGlyphs">80</text>
<line x1="312.0" y1="338.5" x2="323.0" y2="338.5" stroke="#111111" stroke-width="3.0"/>
<line x1="301.0" y1="238.0" x2="323.0" y2="238.0" stroke="#111111" stroke-width="3.0"/>
<text x="282.5" y="252.4" font-size="45" fill="#111111" text-anchor="end" font-family='"Liberation Sans", Arial, sans-serif' textLength="73.0" lengthAdjust="spacingAndGlyphs">100</text>
<line x1="312.0" y1="137.5" x2="323.0" y2="137.5" stroke="#111111" stroke-width="3.0"/>
<line x1="1735.0" y1="1243.2" x2="1756.0" y2="1243.2" stroke="#f52a2a" stroke-width="3.0"/>
<text x="1773.0" y="1257.6" font-size="45" fill="#f52a2a" text-anchor="start" font-family='"Liberation Sans", Arial, sans-serif' textLength="38.0" lengthAdjust="spacingAndGlyphs">-8</text>
<line x1="1735.0" y1="1181.6" x2="1745.5" y2="1181.6" stroke="#f52a2a" stroke-width="3.0"/>
<line x1="1735.0" y1="1120.0" x2="1756.0" y2="1120.0" stroke="#f52a2a" stroke-width="3.0"/>
<text x="1773.0" y="1134.4" font-size="45" fill="#f52a2a" text-anchor="start" font-family='"Liberation Sans", Arial, sans-serif' textLength="38.0" lengthAdjust="spacingAndGlyphs">-7</text>
<line x1="1735.0" y1="1058.4" x2="1745.5" y2="1058.4" stroke="#f52a2a" stroke-width="3.0"/>
<line x1="1735.0" y1="996.8" x2="1756.0" y2="996.8" stroke="#f52a2a" stroke-width="3.0"/>
<text x="1773.0" y="1011.2" font-size="45" fill="#f52a2a" text-anchor="start" font-family='"Liberation Sans", Arial, sans-serif' textLength="38.0" lengthAdjust="spacingAndGlyphs">-6</text>
<line x1="1735.0" y1="935.2" x2="1745.5" y2="935.2" stroke="#f52a2a" stroke-width="3.0"/>
<line x1="1735.0" y1="873.6" x2="1756.0" y2="873.6" stroke="#f52a2a" stroke-width="3.0"/>
<text x="1773.0" y="888.0" font-size="45" fill="#f52a2a" text-anchor="start" font-family='"Liberation Sans", Arial, sans-serif' textLength="38.0" lengthAdjust="spacingAndGlyphs">-5</text>
<line x1="1735.0" y1="812.0" x2="1745.5" y2="812.0" stroke="#f52a2a" stroke-width="3.0"/>
<line x1="1735.0" y1="750.4" x2="1756.0" y2="750.4" stroke="#f52a2a" stroke-width="3.0"/>
<text x="1773.0" y="764.8" font-size="45" fill="#f52a2a" text-anchor="start" font-family='"Liberation Sans", Arial, sans-serif' textLength="38.0" lengthAdjust="spacingAndGlyphs">-4</text>
<line x1="1735.0" y1="688.8" x2="1745.5" y2="688.8" stroke="#f52a2a" stroke-width="3.0"/>
<line x1="1735.0" y1="627.2" x2="1756.0" y2="627.2" stroke="#f52a2a" stroke-width="3.0"/>
<text x="1773.0" y="641.6" font-size="45" fill="#f52a2a" text-anchor="start" font-family='"Liberation Sans", Arial, sans-serif' textLength="38.0" lengthAdjust="spacingAndGlyphs">-3</text>
<line x1="1735.0" y1="565.6" x2="1745.5" y2="565.6" stroke="#f52a2a" stroke-width="3.0"/>
<line x1="1735.0" y1="504.0" x2="1756.0" y2="504.0" stroke="#f52a2a" stroke-width="3.0"/>
<text x="1773.0" y="518.4" font-size="45" fill="#f52a2a" text-anchor="start" font-family='"Liberation Sans", Arial, sans-serif' textLength="38.0" lengthAdjust="spacingAndGlyphs">-2</text>
<line x1="1735.0" y1="442.4" x2="1745.5" y2="442.4" stroke="#f52a2a" stroke-width="3.0"/>
<line x1="1735.0" y1="380.8" x2="1756.0" y2="380.8" stroke="#f52a2a" stroke-width="3.0"/>
<text x="1773.0" y="395.2" font-size="45" fill="#f52a2a" text-anchor="start" font-family='"Liberation Sans", Arial, sans-serif' textLength="38.0" lengthAdjust="spacingAndGlyphs">-1</text>
<line x1="1735.0" y1="319.2" x2="1745.5" y2="319.2" stroke="#f52a2a" stroke-width="3.0"/>
<line x1="1735.0" y1="257.6" x2="1756.0" y2="257.6" stroke="#f52a2a" stroke-width="3.0"/>
<text x="1773.0" y="272.0" font-size="45" fill="#f52a2a" text-anchor="start" font-family='"Liberation Sans", Arial, sans-serif' textLength="25.0" lengthAdjust="spacingAndGlyphs">0</text>
<line x1="1735.0" y1="196.0" x2="1745.5" y2="196.0" stroke="#f52a2a" stroke-width="3.0"/>
<line x1="1735.0" y1="138.0" x2="1756.0" y2="138.0" stroke="#f52a2a" stroke-width="3.0"/>
<text x="1773.0" y="152.4" font-size="45" fill="#f52a2a" text-anchor="start" font-family='"Liberation Sans", Arial, sans-serif' textLength="25.0" lengthAdjust="spacingAndGlyphs">1</text>
<line x1="425.9" y1="1242.5" x2="425.9" y2="1253.5" stroke="#111111" stroke-width="3.0"/>
<line x1="572.6" y1="1242.5" x2="572.6" y2="1265.5" stroke="#111111" stroke-width="3.0"/>
<text x="572.6" y="1317.0" font-size="45" fill="#111111" text-anchor="middle" font-family='"Liberation Sans", Arial, sans-serif' textLength="76.0" lengthAdjust="spacingAndGlyphs">200</text>
<line x1="719.4" y1="1242.5" x2="719.4" y2="1253.5" stroke="#111111" stroke-width="3.0"/>
<line x1="866.1" y1="1242.5" x2="866.1" y2="1265.5" stroke="#111111" stroke-width="3.0"/>
<text x="866.1" y="1317.0" font-size="45" fill="#111111" text-anchor="middle" font-family='"Liberation Sans", Arial, sans-serif' textLength="76.0" lengthAdjust="spacingAndGlyphs">400</text>
<line x1="1012.9" y1="1242.5" x2="1012.9" y2="1253.5" stroke="#111111" stroke-width="3.0"/>
<line x1="1159.6" y1="1242.5" x2="1159.6" y2="1265.5" stroke="#111111" stroke-width="3.0"/>
<text x="1159.6" y="1317.0" font-size="45" fill="#111111" text-anchor="middle" font-family='"Liberation Sans", Arial, sans-serif' textLength="76.0" lengthAdjust="spacingAndGlyphs">600</text>
<line x1="1306.3" y1="1242.5" x2="1306.3" y2="1253.5" stroke="#111111" stroke-width="3.0"/>
<line x1="1453.1" y1="1242.5" x2="1453.1" y2="1265.5" stroke="#111111" stroke-width="3.0"/>
<text x="1453.1" y="1317.0" font-size="45" fill="#111111" text-anchor="middle" font-family='"Liberation Sans", Arial, sans-serif' textLength="76.0" lengthAdjust="spacingAndGlyphs">800</text>
<line x1="1599.8" y1="1242.5" x2="1599.8" y2="1253.5" stroke="#111111" stroke-width="3.0"/>
<text x="1029.0" y="1414.0" font-size="53" fill="#111111" text-anchor="middle" font-family='"Liberation Sans", Arial, sans-serif' textLength="458.0" lengthAdjust="spacingAndGlyphs">Temperature (°C)</text>
<text x="166.5" y="690.7" font-size="58" fill="#111111" text-anchor="middle" font-family='"Liberation Sans", Arial, sans-serif' transform="rotate(-90 166.5 690.7)" textLength="280.0" lengthAdjust="spacingAndGlyphs">Weight (%)</text>
<text x="1881.7" y="688.0" font-size="58" fill="#f52a2a" text-anchor="middle" font-family='"Liberation Sans", Arial, sans-serif' transform="rotate(-90 1881.7 688.0)" textLength="711.0" lengthAdjust="spacingAndGlyphs">Derivative weight % (%/min)</text>
<text x="347.0" y="206.0" font-size="41" fill="#111111" text-anchor="start" font-family='"Liberation Sans", Arial, sans-serif' textLength="225.0" lengthAdjust="spacingAndGlyphs">60°C;96.3%</text>
<text x="470.0" y="309.0" font-size="41" fill="#111111" text-anchor="start" font-family='"Liberation Sans", Arial, sans-serif' textLength="213.0" lengthAdjust="spacingAndGlyphs">200°C;76%</text>
<text x="675.0" y="625.0" font-size="41" fill="#111111" text-anchor="start" font-family='"Liberation Sans", Arial, sans-serif' textLength="249.0" lengthAdjust="spacingAndGlyphs">229°C;62.3%</text>
<text x="1286.5" y="1176.0" font-size="41" fill="#111111" text-anchor="start" font-family='"Liberation Sans", Arial, sans-serif' textLength="281.5" lengthAdjust="spacingAndGlyphs">882.7°C;12.6%</text>
<line x1="1479.5" y1="184.0" x2="1564.0" y2="184.0" stroke="#111111" stroke-width="3"/>
<line x1="1479.5" y1="228.5" x2="1564.0" y2="228.5" stroke="#f52a2a" stroke-width="2.2"/>
<text x="1576.5" y="196.0" font-size="37" fill="#111111" text-anchor="start" font-family='"Liberation Sans", Arial, sans-serif' textLength="74.0" lengthAdjust="spacingAndGlyphs">TGA</text>
<text x="1576.5" y="241.5" font-size="37" fill="#f52a2a" text-anchor="start" font-family='"Liberation Sans", Arial, sans-serif' textLength="76.0" lengthAdjust="spacingAndGlyphs">DTG</text>
<text x="989" y="1584.5" font-size="85" fill="#111" text-anchor="middle" font-family='"Liberation Serif", "Times New Roman", serif'>(<tspan font-weight="bold">A</tspan>)</text>
<rect x="0" y="1625.5" width="1986.5" height="1506.5" fill="url(#nz)"/>
<line x1="339.0" y1="1868.5" x2="469.0" y2="1868.5" stroke="#2a2af0" stroke-width="2"/>
<line x1="337.5" y1="2162.0" x2="727.5" y2="2162.0" stroke="#2a2af0" stroke-width="2"/>
<line x1="345.0" y1="2564.0" x2="1481.5" y2="2564.0" stroke="#4a4af5" stroke-width="2.4"/>
<line x1="397.5" y1="1806.0" x2="397.5" y2="2349.0" stroke="#111111" stroke-width="1.5"/>
<line x1="397.5" y1="2349.0" x2="397.5" y2="2894.0" stroke="#8a8a8a" stroke-width="2.2"/>
<line x1="668.5" y1="2048.5" x2="668.5" y2="2481.0" stroke="#111111" stroke-width="1.5"/>
<line x1="667.5" y1="2481.0" x2="667.5" y2="2654.0" stroke="#777" stroke-width="2.6"/>
<line x1="666.0" y1="2654.0" x2="666.0" y2="2912.5" stroke="#111111" stroke-width="1.5"/>
<line x1="1383.0" y1="2027.5" x2="1382.0" y2="2195.0" stroke="#8a8a8a" stroke-width="2.4"/>
<line x1="1381.5" y1="2195.0" x2="1380.5" y2="2561.0" stroke="#111111" stroke-width="1.5"/>
<line x1="1380.5" y1="2561.0" x2="1380.0" y2="2634.0" stroke="#8a8a8a" stroke-width="2.4"/>
<line x1="1380.0" y1="2634.0" x2="1378.5" y2="2880.0" stroke="#111111" stroke-width="1.5"/>
<path d="M344.0,1955.0 C346.7,1961.7 354.8,1981.7 360.0,1995.0 C365.2,2008.3 370.4,2023.3 375.0,2035.0 C379.6,2046.7 383.8,2058.3 387.5,2065.0 C391.2,2071.7 393.8,2074.0 397.5,2075.0 C401.2,2076.0 404.6,2074.8 410.0,2071.0 C415.4,2067.2 422.5,2059.3 430.0,2052.5 C437.5,2045.7 446.7,2037.1 455.0,2030.0 C463.3,2022.9 471.7,2015.2 480.0,2010.0 C488.3,2004.8 497.9,2001.1 505.0,1999.0 C512.1,1996.9 517.5,1996.5 522.5,1997.5 C527.5,1998.5 530.4,1999.6 535.0,2005.0 C539.6,2010.4 545.0,2018.3 550.0,2030.0 C555.0,2041.7 560.8,2058.3 565.0,2075.0 C569.2,2091.7 572.1,2109.2 575.0,2130.0 C577.9,2150.8 580.0,2178.3 582.5,2200.0 C585.0,2221.7 587.9,2245.2 590.0,2260.0 C592.1,2274.8 593.3,2279.2 595.0,2289.0 C596.7,2298.8 597.9,2308.2 600.0,2319.0 C602.1,2329.8 605.0,2344.4 607.5,2354.0 C610.0,2363.6 612.1,2370.7 615.0,2376.5 C617.9,2382.3 622.1,2386.3 625.0,2389.0 C627.9,2391.7 630.0,2389.2 632.5,2392.5 C635.0,2395.8 637.9,2399.6 640.0,2409.0 C642.1,2418.4 643.3,2431.5 645.0,2449.0 C646.7,2466.5 648.5,2494.0 650.0,2514.0 C651.5,2534.0 652.7,2548.2 654.0,2569.0 C655.3,2589.8 656.7,2617.3 658.0,2639.0 C659.3,2660.7 660.8,2682.3 662.0,2699.0 C663.2,2715.7 664.2,2731.3 665.0,2739.0 C665.8,2746.7 666.2,2746.7 667.0,2745.0 C667.8,2743.3 668.8,2739.2 670.0,2729.0 C671.2,2718.8 672.7,2703.2 674.0,2684.0 C675.3,2664.8 676.7,2636.5 678.0,2614.0 C679.3,2591.5 680.4,2569.0 682.0,2549.0 C683.6,2529.0 685.5,2508.6 687.5,2494.0 C689.5,2479.4 691.5,2468.8 694.0,2461.5 C696.5,2454.2 699.0,2451.9 702.5,2450.5 C706.0,2449.1 712.1,2454.1 715.0,2453.0 C717.9,2451.9 718.3,2450.5 720.0,2444.0 C721.7,2437.5 723.3,2427.3 725.0,2414.0 C726.7,2400.7 728.5,2379.8 730.0,2364.0 C731.5,2348.2 732.8,2331.5 734.0,2319.0 C735.2,2306.5 736.1,2307.2 737.5,2289.0 C738.9,2270.8 740.8,2233.2 742.5,2210.0 C744.2,2186.8 745.4,2170.0 747.5,2150.0 C749.6,2130.0 752.5,2105.8 755.0,2090.0 C757.5,2074.2 759.6,2063.8 762.5,2055.0 C765.4,2046.2 767.9,2042.5 772.5,2037.5 C777.1,2032.5 782.9,2028.3 790.0,2025.0 C797.1,2021.7 805.2,2019.4 815.0,2017.5 C824.8,2015.6 840.8,2013.9 849.0,2013.5 C857.2,2013.1 855.7,2015.3 864.0,2015.0 C872.3,2014.7 884.8,2013.8 899.0,2011.5 C913.2,2009.2 935.7,2004.8 949.0,2001.0 C962.3,1997.2 969.0,1993.3 979.0,1989.0 C989.0,1984.7 999.0,1980.0 1009.0,1975.0 C1019.0,1970.0 1029.0,1963.6 1039.0,1959.0 C1049.0,1954.4 1059.0,1950.4 1069.0,1947.5 C1079.0,1944.6 1087.3,1942.6 1099.0,1941.5 C1110.7,1940.4 1127.3,1940.4 1139.0,1941.0 C1150.7,1941.6 1159.0,1943.7 1169.0,1945.0 C1179.0,1946.3 1189.0,1947.2 1199.0,1949.0 C1209.0,1950.8 1221.5,1952.5 1229.0,1956.0 C1236.5,1959.5 1239.0,1965.6 1244.0,1970.0 C1249.0,1974.4 1254.8,1977.1 1259.0,1982.5 C1263.2,1987.9 1266.2,1997.5 1269.0,2002.5 C1271.8,2007.5 1272.2,2011.2 1275.5,2012.5 C1278.8,2013.8 1284.7,2010.4 1289.0,2010.0 C1293.3,2009.6 1298.2,2007.5 1301.5,2010.0 C1304.8,2012.5 1306.1,2018.8 1309.0,2025.0 C1311.9,2031.2 1315.2,2040.8 1319.0,2047.5 C1322.8,2054.2 1327.3,2057.9 1331.5,2065.0 C1335.7,2072.1 1339.8,2081.7 1344.0,2090.0 C1348.2,2098.3 1352.3,2108.2 1356.5,2115.0 C1360.7,2121.8 1365.4,2127.7 1369.0,2131.0 C1372.6,2134.3 1374.8,2135.6 1378.0,2135.0 C1381.2,2134.4 1384.2,2131.2 1388.0,2127.5 C1391.8,2123.8 1395.9,2117.2 1400.5,2112.5 C1405.1,2107.8 1410.1,2102.3 1415.5,2099.0 C1420.9,2095.7 1426.8,2094.2 1433.0,2092.5 C1439.2,2090.8 1446.8,2089.8 1453.0,2089.0 C1459.2,2088.2 1466.3,2089.0 1470.5,2087.5 C1474.7,2086.0 1475.5,2086.2 1478.0,2080.0 C1480.5,2073.8 1482.6,2065.0 1485.5,2050.0 C1488.4,2035.0 1492.2,2008.3 1495.5,1990.0 C1498.8,1971.7 1502.4,1953.8 1505.5,1940.0 C1508.6,1926.2 1511.7,1914.2 1514.0,1907.5 C1516.3,1900.8 1517.6,1899.6 1519.5,1900.0 C1521.4,1900.4 1523.4,1904.2 1525.5,1910.0 C1527.6,1915.8 1529.9,1928.3 1532.0,1935.0 C1534.1,1941.7 1534.9,1947.5 1538.0,1950.0 C1541.1,1952.5 1546.3,1948.8 1550.5,1950.0 C1554.7,1951.2 1558.4,1953.8 1563.0,1957.5 C1567.6,1961.2 1572.2,1966.7 1578.0,1972.5 C1583.8,1978.3 1591.3,1986.7 1598.0,1992.5 C1604.7,1998.3 1610.5,2002.5 1618.0,2007.5 C1625.5,2012.5 1635.5,2018.8 1643.0,2022.5 C1650.5,2026.2 1656.8,2028.6 1663.0,2030.0 C1669.2,2031.4 1675.1,2032.0 1680.5,2031.0 C1685.9,2030.0 1690.9,2027.5 1695.5,2024.0 C1700.1,2020.5 1704.5,2015.0 1708.0,2010.0 C1711.5,2005.0 1715.1,1996.7 1716.5,1994.0" fill="none" stroke="#f52a2a" stroke-width="1.9" stroke-linejoin="round" stroke-linecap="butt"/>
<path d="M342.5,1840.0 C346.2,1841.2 355.8,1842.9 365.0,1847.5 C374.2,1852.1 386.7,1860.2 397.5,1867.5 C408.3,1874.8 418.8,1883.9 430.0,1891.0 C441.2,1898.1 454.2,1904.8 465.0,1910.0 C475.8,1915.2 484.2,1918.8 495.0,1922.5 C505.8,1926.2 520.0,1929.2 530.0,1932.5 C540.0,1935.8 547.5,1938.3 555.0,1942.5 C562.5,1946.7 569.2,1951.7 575.0,1957.5 C580.8,1963.3 585.0,1969.6 590.0,1977.5 C595.0,1985.4 600.0,1995.4 605.0,2005.0 C610.0,2014.6 614.2,2023.3 620.0,2035.0 C625.8,2046.7 634.2,2062.5 640.0,2075.0 C645.8,2087.5 650.2,2095.8 655.0,2110.0 C659.8,2124.2 664.3,2145.0 668.5,2160.0 C672.7,2175.0 675.6,2186.7 680.0,2200.0 C684.4,2213.3 689.6,2225.2 695.0,2240.0 C700.4,2254.8 707.5,2275.8 712.5,2289.0 C717.5,2302.2 721.2,2309.8 725.0,2319.0 C728.8,2328.2 731.7,2336.9 735.0,2344.0 C738.3,2351.1 740.8,2356.5 745.0,2361.5 C749.2,2366.5 754.2,2370.1 760.0,2374.0 C765.8,2377.9 773.3,2381.7 780.0,2385.0 C786.7,2388.3 793.3,2391.1 800.0,2394.0 C806.7,2396.9 811.8,2399.2 820.0,2402.5 C828.2,2405.8 837.5,2408.9 849.0,2414.0 C860.5,2419.1 875.7,2427.2 889.0,2433.0 C902.3,2438.8 915.7,2444.2 929.0,2449.0 C942.3,2453.8 955.7,2458.0 969.0,2461.5 C982.3,2465.0 995.7,2467.7 1009.0,2470.0 C1022.3,2472.3 1035.7,2474.2 1049.0,2475.5 C1062.3,2476.8 1075.7,2477.3 1089.0,2478.0 C1102.3,2478.7 1115.7,2478.9 1129.0,2479.5 C1142.3,2480.1 1155.7,2480.8 1169.0,2481.5 C1182.3,2482.2 1197.3,2483.1 1209.0,2484.0 C1220.7,2484.9 1229.8,2485.5 1239.0,2487.0 C1248.2,2488.5 1256.5,2490.6 1264.0,2493.0 C1271.5,2495.4 1277.3,2498.8 1284.0,2501.5 C1290.7,2504.2 1297.3,2505.9 1304.0,2509.0 C1310.7,2512.1 1317.3,2515.8 1324.0,2520.0 C1330.7,2524.2 1337.3,2528.8 1344.0,2534.0 C1350.7,2539.2 1358.3,2546.7 1364.0,2551.5 C1369.7,2556.3 1371.5,2557.2 1378.0,2563.0 C1384.5,2568.8 1394.7,2578.8 1403.0,2586.5 C1411.3,2594.2 1419.7,2601.9 1428.0,2609.0 C1436.3,2616.1 1444.7,2622.8 1453.0,2629.0 C1461.3,2635.2 1471.8,2642.5 1478.0,2646.5 C1484.2,2650.5 1485.9,2651.5 1490.5,2653.0 C1495.1,2654.5 1500.1,2655.5 1505.5,2655.5 C1510.9,2655.5 1516.8,2653.4 1523.0,2653.0 C1529.2,2652.6 1535.5,2652.5 1543.0,2653.0 C1550.5,2653.5 1558.8,2654.3 1568.0,2656.0 C1577.2,2657.7 1588.0,2660.0 1598.0,2663.0 C1608.0,2666.0 1618.0,2669.9 1628.0,2674.0 C1638.0,2678.1 1648.0,2682.9 1658.0,2687.5 C1668.0,2692.1 1678.3,2697.3 1688.0,2701.5 C1697.7,2705.7 1711.3,2710.7 1716.0,2712.5" fill="none" stroke="#111111" stroke-width="2.2" stroke-linejoin="round" stroke-linecap="butt"/>
<line x1="342.5" y1="1787.3" x2="342.5" y2="2882.0" stroke="#111111" stroke-width="3.4"/>
<line x1="340.8" y1="1789.0" x2="1717.0" y2="1789.0" stroke="#111111" stroke-width="3.4"/>
<line x1="332.8" y1="2880.3" x2="1717.0" y2="2880.3" stroke="#111111" stroke-width="3.4"/>
<line x1="1717.0" y1="1787.3" x2="1717.0" y2="2882.0" stroke="#f52a2a" stroke-width="3.4"/>
<line x1="320.5" y1="2880.3" x2="342.5" y2="2880.3" stroke="#111111" stroke-width="3.0"/>
<text x="304.0" y="2894.7" font-size="45" fill="#111111" text-anchor="end" font-family='"Liberation Sans", Arial, sans-serif' textLength="25.0" lengthAdjust="spacingAndGlyphs">0</text>
<line x1="331.5" y1="2776.3" x2="342.5" y2="2776.3" stroke="#111111" stroke-width="3.0"/>
<line x1="320.5" y1="2672.4" x2="342.5" y2="2672.4" stroke="#111111" stroke-width="3.0"/>
<text x="304.0" y="2686.8" font-size="45" fill="#111111" text-anchor="end" font-family='"Liberation Sans", Arial, sans-serif' textLength="50.5" lengthAdjust="spacingAndGlyphs">20</text>
<line x1="331.5" y1="2568.4" x2="342.5" y2="2568.4" stroke="#111111" stroke-width="3.0"/>
<line x1="320.5" y1="2464.4" x2="342.5" y2="2464.4" stroke="#111111" stroke-width="3.0"/>
<text x="304.0" y="2478.8" font-size="45" fill="#111111" text-anchor="end" font-family='"Liberation Sans", Arial, sans-serif' textLength="50.5" lengthAdjust="spacingAndGlyphs">40</text>
<line x1="331.5" y1="2360.5" x2="342.5" y2="2360.5" stroke="#111111" stroke-width="3.0"/>
<line x1="320.5" y1="2256.5" x2="342.5" y2="2256.5" stroke="#111111" stroke-width="3.0"/>
<text x="304.0" y="2270.9" font-size="45" fill="#111111" text-anchor="end" font-family='"Liberation Sans", Arial, sans-serif' textLength="50.5" lengthAdjust="spacingAndGlyphs">60</text>
<line x1="331.5" y1="2152.5" x2="342.5" y2="2152.5" stroke="#111111" stroke-width="3.0"/>
<line x1="320.5" y1="2048.5" x2="342.5" y2="2048.5" stroke="#111111" stroke-width="3.0"/>
<text x="304.0" y="2062.9" font-size="45" fill="#111111" text-anchor="end" font-family='"Liberation Sans", Arial, sans-serif' textLength="50.5" lengthAdjust="spacingAndGlyphs">80</text>
<line x1="331.5" y1="1944.6" x2="342.5" y2="1944.6" stroke="#111111" stroke-width="3.0"/>
<line x1="320.5" y1="1840.6" x2="342.5" y2="1840.6" stroke="#111111" stroke-width="3.0"/>
<text x="304.0" y="1855.0" font-size="45" fill="#111111" text-anchor="end" font-family='"Liberation Sans", Arial, sans-serif' textLength="73.0" lengthAdjust="spacingAndGlyphs">100</text>
<line x1="1717.0" y1="2880.9" x2="1726.5" y2="2880.9" stroke="#f52a2a" stroke-width="3.0"/>
<line x1="1717.0" y1="2808.0" x2="1736.0" y2="2808.0" stroke="#f52a2a" stroke-width="3.0"/>
<text x="1752.5" y="2822.4" font-size="45" fill="#f52a2a" text-anchor="start" font-family='"Liberation Sans", Arial, sans-serif' textLength="38.0" lengthAdjust="spacingAndGlyphs">-6</text>
<line x1="1717.0" y1="2735.1" x2="1726.5" y2="2735.1" stroke="#f52a2a" stroke-width="3.0"/>
<line x1="1717.0" y1="2662.2" x2="1736.0" y2="2662.2" stroke="#f52a2a" stroke-width="3.0"/>
<text x="1752.5" y="2676.7" font-size="45" fill="#f52a2a" text-anchor="start" font-family='"Liberation Sans", Arial, sans-serif' textLength="38.0" lengthAdjust="spacingAndGlyphs">-5</text>
<line x1="1717.0" y1="2589.4" x2="1726.5" y2="2589.4" stroke="#f52a2a" stroke-width="3.0"/>
<line x1="1717.0" y1="2516.5" x2="1736.0" y2="2516.5" stroke="#f52a2a" stroke-width="3.0"/>
<text x="1752.5" y="2530.9" font-size="45" fill="#f52a2a" text-anchor="start" font-family='"Liberation Sans", Arial, sans-serif' textLength="38.0" lengthAdjust="spacingAndGlyphs">-4</text>
<line x1="1717.0" y1="2443.6" x2="1726.5" y2="2443.6" stroke="#f52a2a" stroke-width="3.0"/>
<line x1="1717.0" y1="2370.8" x2="1736.0" y2="2370.8" stroke="#f52a2a" stroke-width="3.0"/>
<text x="1752.5" y="2385.2" font-size="45" fill="#f52a2a" text-anchor="start" font-family='"Liberation Sans", Arial, sans-serif' textLength="38.0" lengthAdjust="spacingAndGlyphs">-3</text>
<line x1="1717.0" y1="2297.9" x2="1726.5" y2="2297.9" stroke="#f52a2a" stroke-width="3.0"/>
<line x1="1717.0" y1="2225.0" x2="1736.0" y2="2225.0" stroke="#f52a2a" stroke-width="3.0"/>
<text x="1752.5" y="2239.4" font-size="45" fill="#f52a2a" text-anchor="start" font-family='"Liberation Sans", Arial, sans-serif' textLength="38.0" lengthAdjust="spacingAndGlyphs">-2</text>
<line x1="1717.0" y1="2152.1" x2="1726.5" y2="2152.1" stroke="#f52a2a" stroke-width="3.0"/>
<line x1="1717.0" y1="2079.2" x2="1736.0" y2="2079.2" stroke="#f52a2a" stroke-width="3.0"/>
<text x="1752.5" y="2093.7" font-size="45" fill="#f52a2a" text-anchor="start" font-family='"Liberation Sans", Arial, sans-serif' textLength="38.0" lengthAdjust="spacingAndGlyphs">-1</text>
<line x1="1717.0" y1="2006.4" x2="1726.5" y2="2006.4" stroke="#f52a2a" stroke-width="3.0"/>
<line x1="1717.0" y1="1933.5" x2="1736.0" y2="1933.5" stroke="#f52a2a" stroke-width="3.0"/>
<text x="1752.5" y="1947.9" font-size="45" fill="#f52a2a" text-anchor="start" font-family='"Liberation Sans", Arial, sans-serif' textLength="25.0" lengthAdjust="spacingAndGlyphs">0</text>
<line x1="1717.0" y1="1860.6" x2="1726.5" y2="1860.6" stroke="#f52a2a" stroke-width="3.0"/>
<line x1="1717.0" y1="1787.8" x2="1736.0" y2="1787.8" stroke="#f52a2a" stroke-width="3.0"/>
<text x="1752.5" y="1802.2" font-size="45" fill="#f52a2a" text-anchor="start" font-family='"Liberation Sans", Arial, sans-serif' textLength="25.0" lengthAdjust="spacingAndGlyphs">1</text>
<line x1="441.9" y1="2880.3" x2="441.9" y2="2891.3" stroke="#111111" stroke-width="3.0"/>
<line x1="585.3" y1="2880.3" x2="585.3" y2="2903.3" stroke="#111111" stroke-width="3.0"/>
<text x="585.3" y="2954.0" font-size="45" fill="#111111" text-anchor="middle" font-family='"Liberation Sans", Arial, sans-serif' textLength="76.0" lengthAdjust="spacingAndGlyphs">200</text>
<line x1="728.6" y1="2880.3" x2="728.6" y2="2891.3" stroke="#111111" stroke-width="3.0"/>
<line x1="872.0" y1="2880.3" x2="872.0" y2="2903.3" stroke="#111111" stroke-width="3.0"/>
<text x="872.0" y="2954.0" font-size="45" fill="#111111" text-anchor="middle" font-family='"Liberation Sans", Arial, sans-serif' textLength="76.0" lengthAdjust="spacingAndGlyphs">400</text>
<line x1="1015.3" y1="2880.3" x2="1015.3" y2="2891.3" stroke="#111111" stroke-width="3.0"/>
<line x1="1158.7" y1="2880.3" x2="1158.7" y2="2903.3" stroke="#111111" stroke-width="3.0"/>
<text x="1158.7" y="2954.0" font-size="45" fill="#111111" text-anchor="middle" font-family='"Liberation Sans", Arial, sans-serif' textLength="76.0" lengthAdjust="spacingAndGlyphs">600</text>
<line x1="1302.0" y1="2880.3" x2="1302.0" y2="2891.3" stroke="#111111" stroke-width="3.0"/>
<line x1="1445.4" y1="2880.3" x2="1445.4" y2="2903.3" stroke="#111111" stroke-width="3.0"/>
<text x="1445.4" y="2954.0" font-size="45" fill="#111111" text-anchor="middle" font-family='"Liberation Sans", Arial, sans-serif' textLength="76.0" lengthAdjust="spacingAndGlyphs">800</text>
<line x1="1588.8" y1="2880.3" x2="1588.8" y2="2891.3" stroke="#111111" stroke-width="3.0"/>
<text x="1028.5" y="3049.0" font-size="52" fill="#111111" text-anchor="middle" font-family='"Liberation Sans", Arial, sans-serif' textLength="445.0" lengthAdjust="spacingAndGlyphs">Temperature (°C)</text>
<text x="191.5" y="2335.0" font-size="57" fill="#111111" text-anchor="middle" font-family='"Liberation Sans", Arial, sans-serif' transform="rotate(-90 191.5 2335.0)" textLength="276.0" lengthAdjust="spacingAndGlyphs">Weight (%)</text>
<text x="1855.5" y="2332.4" font-size="57" fill="#f52a2a" text-anchor="middle" font-family='"Liberation Sans", Arial, sans-serif' transform="rotate(-90 1855.5 2332.4)" textLength="700.6" lengthAdjust="spacingAndGlyphs">Derivative weight % (%/min)</text>
<text x="466.5" y="1851.0" font-size="41" fill="#111111" text-anchor="start" font-family='"Liberation Sans", Arial, sans-serif' textLength="220.0" lengthAdjust="spacingAndGlyphs">69.5°C;97%</text>
<text x="769.0" y="2175.0" font-size="41" fill="#111111" text-anchor="start" font-family='"Liberation Sans", Arial, sans-serif' textLength="276.5" lengthAdjust="spacingAndGlyphs">256.4°C;69.3%</text>
<text x="1383.0" y="2536.5" font-size="41" fill="#111111" text-anchor="start" font-family='"Liberation Sans", Arial, sans-serif' textLength="277.5" lengthAdjust="spacingAndGlyphs">755.6°C;30.5%</text>
<line x1="1526.5" y1="1845.0" x2="1608.0" y2="1845.0" stroke="#111111" stroke-width="1.8"/>
<line x1="1526.5" y1="1890.0" x2="1608.0" y2="1890.0" stroke="#f52a2a" stroke-width="1.8"/>
<text x="1621.5" y="1857.5" font-size="37" fill="#111111" text-anchor="start" font-family='"Liberation Sans", Arial, sans-serif' textLength="71.5" lengthAdjust="spacingAndGlyphs">TGA</text>
<text x="1621.5" y="1901.5" font-size="37" fill="#f52a2a" text-anchor="start" font-family='"Liberation Sans", Arial, sans-serif' textLength="73.5" lengthAdjust="spacingAndGlyphs">DTG</text>
<text x="989" y="3238.5" font-size="85" fill="#111" text-anchor="middle" font-family='"Liberation Serif", "Times New Roman", serif'>(<tspan font-weight="bold">B</tspan>)</text>
<rect x="0" y="3261.4" width="1996" height="1524.1" fill="url(#nz)"/>
<line x1="335.0" y1="3565.0" x2="420.0" y2="3565.0" stroke="#2a2af0" stroke-width="2"/>
<line x1="336.0" y1="3874.5" x2="731.0" y2="3874.5" stroke="#2a2af0" stroke-width="2"/>
<line x1="336.0" y1="4276.5" x2="435.0" y2="4276.5" stroke="#6a6af8" stroke-width="2"/>
<line x1="435.0" y1="4276.5" x2="1455.5" y2="4277.5" stroke="#4a4af5" stroke-width="2.2"/>
<line x1="397.5" y1="3551.5" x2="397.5" y2="4531.0" stroke="#111111" stroke-width="1.5"/>
<line x1="671.0" y1="3816.0" x2="671.0" y2="3880.0" stroke="#8a8a8a" stroke-width="2.4"/>
<line x1="671.0" y1="3880.0" x2="671.0" y2="3929.0" stroke="#111111" stroke-width="1.5"/>
<line x1="671.0" y1="3929.0" x2="671.0" y2="4531.0" stroke="#8a8a8a" stroke-width="2.4"/>
<line x1="1382.0" y1="3721.0" x2="1382.0" y2="4531.0" stroke="#111111" stroke-width="1.5"/>
<path d="M344.0,3522.5 C345.4,3528.8 349.0,3545.4 352.5,3560.0 C356.0,3574.6 360.8,3594.2 365.0,3610.0 C369.2,3625.8 373.3,3643.3 377.5,3655.0 C381.7,3666.7 386.7,3674.6 390.0,3680.0 C393.3,3685.4 394.2,3687.1 397.5,3687.5 C400.8,3687.9 404.6,3685.4 410.0,3682.5 C415.4,3679.6 422.5,3674.2 430.0,3670.0 C437.5,3665.8 446.7,3662.1 455.0,3657.5 C463.3,3652.9 472.5,3646.7 480.0,3642.5 C487.5,3638.3 494.2,3634.6 500.0,3632.5 C505.8,3630.4 509.2,3630.0 515.0,3630.0 C520.8,3630.0 529.2,3629.6 535.0,3632.5 C540.8,3635.4 545.0,3638.8 550.0,3647.5 C555.0,3656.2 560.8,3671.2 565.0,3685.0 C569.2,3698.8 572.1,3713.3 575.0,3730.0 C577.9,3746.7 580.2,3765.0 582.5,3785.0 C584.8,3805.0 587.1,3830.8 589.0,3850.0 C590.9,3869.2 592.6,3886.8 594.0,3900.0 C595.4,3913.2 596.1,3915.8 597.5,3929.0 C598.9,3942.2 600.4,3960.7 602.5,3979.0 C604.6,3997.3 607.5,4022.3 610.0,4039.0 C612.5,4055.7 615.0,4069.4 617.5,4079.0 C620.0,4088.6 622.1,4093.2 625.0,4096.5 C627.9,4099.8 632.1,4098.2 635.0,4099.0 C637.9,4099.8 640.4,4096.5 642.5,4101.5 C644.6,4106.5 645.8,4114.4 647.5,4129.0 C649.2,4143.6 650.8,4165.7 652.5,4189.0 C654.2,4212.3 655.8,4242.3 657.5,4269.0 C659.2,4295.7 661.0,4326.5 662.5,4349.0 C664.0,4371.5 665.1,4389.8 666.5,4404.0 C667.9,4418.2 669.6,4433.2 671.0,4434.0 C672.4,4434.8 673.5,4424.8 675.0,4409.0 C676.5,4393.2 678.3,4362.3 680.0,4339.0 C681.7,4315.7 683.3,4290.7 685.0,4269.0 C686.7,4247.3 688.2,4226.5 690.0,4209.0 C691.8,4191.5 693.9,4174.8 696.0,4164.0 C698.1,4153.2 700.2,4147.2 702.5,4144.0 C704.8,4140.8 707.5,4144.6 710.0,4145.0 C712.5,4145.4 715.0,4149.2 717.5,4146.5 C720.0,4143.8 722.5,4140.2 725.0,4129.0 C727.5,4117.8 730.2,4099.8 732.5,4079.0 C734.8,4058.2 737.2,4029.0 739.0,4004.0 C740.8,3979.0 742.3,3948.0 743.5,3929.0 C744.7,3910.0 744.9,3904.8 746.0,3890.0 C747.1,3875.2 748.5,3858.3 750.0,3840.0 C751.5,3821.7 753.1,3800.0 755.0,3780.0 C756.9,3760.0 759.0,3738.3 761.5,3720.0 C764.0,3701.7 766.9,3682.5 770.0,3670.0 C773.1,3657.5 775.8,3651.7 780.0,3645.0 C784.2,3638.3 789.2,3633.8 795.0,3630.0 C800.8,3626.2 806.8,3624.8 815.0,3622.5 C823.2,3620.2 834.2,3617.8 844.0,3616.0 C853.8,3614.2 864.0,3612.8 874.0,3612.0 C884.0,3611.2 895.2,3610.8 904.0,3611.0 C912.8,3611.2 920.7,3611.1 926.5,3613.0 C932.3,3614.9 935.7,3622.2 939.0,3622.5 C942.3,3622.8 943.8,3618.2 946.5,3615.0 C949.2,3611.8 950.4,3606.1 955.0,3603.0 C959.6,3599.9 967.5,3599.1 974.0,3596.5 C980.5,3593.9 987.3,3591.1 994.0,3587.5 C1000.7,3583.9 1007.3,3580.0 1014.0,3575.0 C1020.7,3570.0 1025.7,3563.1 1034.0,3557.5 C1042.3,3551.9 1054.0,3545.9 1064.0,3541.5 C1074.0,3537.1 1085.7,3533.1 1094.0,3531.0 C1102.3,3528.9 1105.7,3529.2 1114.0,3529.0 C1122.3,3528.8 1134.0,3529.5 1144.0,3530.0 C1154.0,3530.5 1164.0,3531.3 1174.0,3532.0 C1184.0,3532.7 1192.8,3532.7 1204.0,3534.0 C1215.2,3535.3 1231.5,3537.3 1241.5,3540.0 C1251.5,3542.7 1257.3,3546.7 1264.0,3550.0 C1270.7,3553.3 1276.9,3556.2 1281.5,3560.0 C1286.1,3563.8 1287.8,3565.8 1291.5,3572.5 C1295.2,3579.2 1299.4,3590.4 1304.0,3600.0 C1308.6,3609.6 1314.0,3620.0 1319.0,3630.0 C1324.0,3640.0 1329.0,3648.3 1334.0,3660.0 C1339.0,3671.7 1344.4,3685.8 1349.0,3700.0 C1353.6,3714.2 1357.5,3731.7 1361.5,3745.0 C1365.5,3758.3 1369.4,3772.9 1373.0,3780.0 C1376.6,3787.1 1379.7,3787.9 1383.0,3787.5 C1386.3,3787.1 1389.7,3782.9 1393.0,3777.5 C1396.3,3772.1 1399.7,3762.9 1403.0,3755.0 C1406.3,3747.1 1409.7,3736.2 1413.0,3730.0 C1416.3,3723.8 1418.8,3720.8 1423.0,3717.5 C1427.2,3714.2 1433.0,3713.3 1438.0,3710.0 C1443.0,3706.7 1448.4,3701.2 1453.0,3697.5 C1457.6,3693.8 1461.3,3690.0 1465.5,3687.5 C1469.7,3685.0 1473.4,3685.8 1478.0,3682.5 C1482.6,3679.2 1487.2,3674.6 1493.0,3667.5 C1498.8,3660.4 1506.3,3648.8 1513.0,3640.0 C1519.7,3631.2 1527.2,3625.0 1533.0,3615.0 C1538.8,3605.0 1543.4,3592.5 1548.0,3580.0 C1552.6,3567.5 1556.8,3552.1 1560.5,3540.0 C1564.2,3527.9 1567.4,3514.8 1570.5,3507.5 C1573.6,3500.2 1576.2,3496.4 1579.0,3496.0 C1581.8,3495.6 1584.2,3498.5 1587.0,3505.0 C1589.8,3511.5 1592.4,3524.2 1595.5,3535.0 C1598.6,3545.8 1601.8,3559.6 1605.5,3570.0 C1609.2,3580.4 1613.4,3589.6 1618.0,3597.5 C1622.6,3605.4 1627.2,3611.9 1633.0,3617.5 C1638.8,3623.1 1645.5,3627.9 1653.0,3631.0 C1660.5,3634.1 1671.3,3637.0 1678.0,3636.0 C1684.7,3635.0 1688.0,3630.2 1693.0,3625.0 C1698.0,3619.8 1703.6,3611.7 1708.0,3605.0 C1712.4,3598.3 1717.6,3588.3 1719.5,3585.0" fill="none" stroke="#f52a2a" stroke-width="1.9" stroke-linejoin="round" stroke-linecap="butt"/>
<path d="M342.5,3537.5 C345.4,3538.2 353.8,3539.0 360.0,3541.5 C366.2,3544.0 373.3,3548.2 380.0,3552.5 C386.7,3556.8 392.5,3562.1 400.0,3567.5 C407.5,3572.9 416.7,3579.2 425.0,3585.0 C433.3,3590.8 441.7,3597.1 450.0,3602.5 C458.3,3607.9 465.8,3612.8 475.0,3617.5 C484.2,3622.2 495.8,3626.8 505.0,3631.0 C514.2,3635.2 521.7,3638.9 530.0,3642.5 C538.3,3646.1 547.5,3648.8 555.0,3652.5 C562.5,3656.2 569.2,3660.4 575.0,3665.0 C580.8,3669.6 585.0,3673.3 590.0,3680.0 C595.0,3686.7 600.0,3695.8 605.0,3705.0 C610.0,3714.2 615.0,3724.6 620.0,3735.0 C625.0,3745.4 630.0,3756.2 635.0,3767.5 C640.0,3778.8 645.4,3790.4 650.0,3802.5 C654.6,3814.6 659.0,3827.9 662.5,3840.0 C666.0,3852.1 668.1,3863.3 671.0,3875.0 C673.9,3886.7 677.5,3901.0 680.0,3910.0 C682.5,3919.0 682.7,3919.2 686.0,3929.0 C689.3,3938.8 695.2,3955.7 700.0,3969.0 C704.8,3982.3 710.0,3996.5 715.0,4009.0 C720.0,4021.5 725.0,4033.6 730.0,4044.0 C735.0,4054.4 740.0,4064.0 745.0,4071.5 C750.0,4079.0 754.2,4083.8 760.0,4089.0 C765.8,4094.2 772.5,4098.3 780.0,4102.5 C787.5,4106.7 794.3,4109.3 805.0,4114.0 C815.7,4118.7 829.2,4124.2 844.0,4130.5 C858.8,4136.8 877.3,4144.5 894.0,4151.5 C910.7,4158.5 929.0,4166.9 944.0,4172.5 C959.0,4178.1 971.5,4181.6 984.0,4185.0 C996.5,4188.4 1006.5,4190.7 1019.0,4193.0 C1031.5,4195.3 1044.8,4197.5 1059.0,4199.0 C1073.2,4200.5 1088.2,4201.2 1104.0,4202.0 C1119.8,4202.8 1137.3,4203.2 1154.0,4204.0 C1170.7,4204.8 1189.0,4205.7 1204.0,4206.5 C1219.0,4207.3 1232.3,4207.9 1244.0,4209.0 C1255.7,4210.1 1264.8,4211.2 1274.0,4213.0 C1283.2,4214.8 1290.7,4216.9 1299.0,4220.0 C1307.3,4223.1 1316.5,4227.3 1324.0,4231.5 C1331.5,4235.7 1337.8,4240.2 1344.0,4245.0 C1350.2,4249.8 1356.7,4255.2 1361.5,4260.0 C1366.3,4264.8 1368.6,4269.6 1373.0,4274.0 C1377.4,4278.4 1381.3,4280.2 1388.0,4286.5 C1394.7,4292.8 1403.8,4303.2 1413.0,4311.5 C1422.2,4319.8 1433.0,4329.0 1443.0,4336.5 C1453.0,4344.0 1463.0,4350.2 1473.0,4356.5 C1483.0,4362.8 1493.8,4369.0 1503.0,4374.0 C1512.2,4379.0 1520.5,4383.3 1528.0,4386.5 C1535.5,4389.7 1540.5,4391.8 1548.0,4393.0 C1555.5,4394.2 1565.5,4394.2 1573.0,4394.0 C1580.5,4393.8 1586.3,4391.1 1593.0,4391.5 C1599.7,4391.9 1604.7,4393.6 1613.0,4396.5 C1621.3,4399.4 1633.0,4404.6 1643.0,4409.0 C1653.0,4413.4 1663.8,4418.8 1673.0,4423.0 C1682.2,4427.2 1690.2,4431.2 1698.0,4434.0 C1705.8,4436.8 1715.9,4439.0 1719.5,4440.0" fill="none" stroke="#111111" stroke-width="2.2" stroke-linejoin="round" stroke-linecap="butt"/>
<line x1="339.5" y1="3425.8" x2="339.5" y2="4532.7" stroke="#111111" stroke-width="3.4"/>
<line x1="337.8" y1="3427.5" x2="1720.5" y2="3427.5" stroke="#111111" stroke-width="3.4"/>
<line x1="329.8" y1="4531.0" x2="1720.5" y2="4531.0" stroke="#111111" stroke-width="3.4"/>
<line x1="1720.5" y1="3425.8" x2="1720.5" y2="4532.7" stroke="#f52a2a" stroke-width="3.4"/>
<line x1="328.5" y1="4531.0" x2="339.5" y2="4531.0" stroke="#111111" stroke-width="3.0"/>
<line x1="317.5" y1="4420.6" x2="339.5" y2="4420.6" stroke="#111111" stroke-width="3.0"/>
<text x="300.0" y="4435.0" font-size="45" fill="#111111" text-anchor="end" font-family='"Liberation Sans", Arial, sans-serif' textLength="50.5" lengthAdjust="spacingAndGlyphs">20</text>
<line x1="328.5" y1="4310.2" x2="339.5" y2="4310.2" stroke="#111111" stroke-width="3.0"/>
<line x1="317.5" y1="4199.8" x2="339.5" y2="4199.8" stroke="#111111" stroke-width="3.0"/>
<text x="300.0" y="4214.2" font-size="45" fill="#111111" text-anchor="end" font-family='"Liberation Sans", Arial, sans-serif' textLength="50.5" lengthAdjust="spacingAndGlyphs">40</text>
<line x1="328.5" y1="4089.4" x2="339.5" y2="4089.4" stroke="#111111" stroke-width="3.0"/>
<line x1="317.5" y1="3979.0" x2="339.5" y2="3979.0" stroke="#111111" stroke-width="3.0"/>
<text x="300.0" y="3993.4" font-size="45" fill="#111111" text-anchor="end" font-family='"Liberation Sans", Arial, sans-serif' textLength="50.5" lengthAdjust="spacingAndGlyphs">60</text>
<line x1="328.5" y1="3868.6" x2="339.5" y2="3868.6" stroke="#111111" stroke-width="3.0"/>
<line x1="317.5" y1="3758.2" x2="339.5" y2="3758.2" stroke="#111111" stroke-width="3.0"/>
<text x="300.0" y="3772.6" font-size="45" fill="#111111" text-anchor="end" font-family='"Liberation Sans", Arial, sans-serif' textLength="50.5" lengthAdjust="spacingAndGlyphs">80</text>
<line x1="328.5" y1="3647.8" x2="339.5" y2="3647.8" stroke="#111111" stroke-width="3.0"/>
<line x1="317.5" y1="3537.4" x2="339.5" y2="3537.4" stroke="#111111" stroke-width="3.0"/>
<text x="300.0" y="3551.8" font-size="45" fill="#111111" text-anchor="end" font-family='"Liberation Sans", Arial, sans-serif' textLength="73.0" lengthAdjust="spacingAndGlyphs">100</text>
<line x1="328.5" y1="3427.0" x2="339.5" y2="3427.0" stroke="#111111" stroke-width="3.0"/>
<line x1="1720.5" y1="4531.6" x2="1731.0" y2="4531.6" stroke="#f52a2a" stroke-width="3.0"/>
<line x1="1720.5" y1="4439.5" x2="1741.5" y2="4439.5" stroke="#f52a2a" stroke-width="3.0"/>
<text x="1757.7" y="4453.9" font-size="45" fill="#f52a2a" text-anchor="start" font-family='"Liberation Sans", Arial, sans-serif' textLength="38.0" lengthAdjust="spacingAndGlyphs">-5</text>
<line x1="1720.5" y1="4347.4" x2="1731.0" y2="4347.4" stroke="#f52a2a" stroke-width="3.0"/>
<line x1="1720.5" y1="4255.4" x2="1741.5" y2="4255.4" stroke="#f52a2a" stroke-width="3.0"/>
<text x="1757.7" y="4269.8" font-size="45" fill="#f52a2a" text-anchor="start" font-family='"Liberation Sans", Arial, sans-serif' textLength="38.0" lengthAdjust="spacingAndGlyphs">-4</text>
<line x1="1720.5" y1="4163.4" x2="1731.0" y2="4163.4" stroke="#f52a2a" stroke-width="3.0"/>
<line x1="1720.5" y1="4071.3" x2="1741.5" y2="4071.3" stroke="#f52a2a" stroke-width="3.0"/>
<text x="1757.7" y="4085.7" font-size="45" fill="#f52a2a" text-anchor="start" font-family='"Liberation Sans", Arial, sans-serif' textLength="38.0" lengthAdjust="spacingAndGlyphs">-3</text>
<line x1="1720.5" y1="3979.2" x2="1731.0" y2="3979.2" stroke="#f52a2a" stroke-width="3.0"/>
<line x1="1720.5" y1="3887.2" x2="1741.5" y2="3887.2" stroke="#f52a2a" stroke-width="3.0"/>
<text x="1757.7" y="3901.6" font-size="45" fill="#f52a2a" text-anchor="start" font-family='"Liberation Sans", Arial, sans-serif' textLength="38.0" lengthAdjust="spacingAndGlyphs">-2</text>
<line x1="1720.5" y1="3795.2" x2="1731.0" y2="3795.2" stroke="#f52a2a" stroke-width="3.0"/>
<line x1="1720.5" y1="3703.1" x2="1741.5" y2="3703.1" stroke="#f52a2a" stroke-width="3.0"/>
<text x="1757.7" y="3717.5" font-size="45" fill="#f52a2a" text-anchor="start" font-family='"Liberation Sans", Arial, sans-serif' textLength="38.0" lengthAdjust="spacingAndGlyphs">-1</text>
<line x1="1720.5" y1="3611.1" x2="1731.0" y2="3611.1" stroke="#f52a2a" stroke-width="3.0"/>
<line x1="1720.5" y1="3519.0" x2="1741.5" y2="3519.0" stroke="#f52a2a" stroke-width="3.0"/>
<text x="1757.7" y="3533.4" font-size="45" fill="#f52a2a" text-anchor="start" font-family='"Liberation Sans", Arial, sans-serif' textLength="25.0" lengthAdjust="spacingAndGlyphs">0</text>
<line x1="1720.5" y1="3426.9" x2="1731.0" y2="3426.9" stroke="#f52a2a" stroke-width="3.0"/>
<line x1="445.8" y1="4531.0" x2="445.8" y2="4542.0" stroke="#111111" stroke-width="3.0"/>
<line x1="588.7" y1="4531.0" x2="588.7" y2="4554.0" stroke="#111111" stroke-width="3.0"/>
<text x="588.7" y="4605.5" font-size="45" fill="#111111" text-anchor="middle" font-family='"Liberation Sans", Arial, sans-serif' textLength="76.0" lengthAdjust="spacingAndGlyphs">200</text>
<line x1="731.6" y1="4531.0" x2="731.6" y2="4542.0" stroke="#111111" stroke-width="3.0"/>
<line x1="874.5" y1="4531.0" x2="874.5" y2="4554.0" stroke="#111111" stroke-width="3.0"/>
<text x="874.5" y="4605.5" font-size="45" fill="#111111" text-anchor="middle" font-family='"Liberation Sans", Arial, sans-serif' textLength="76.0" lengthAdjust="spacingAndGlyphs">400</text>
<line x1="1017.4" y1="4531.0" x2="1017.4" y2="4542.0" stroke="#111111" stroke-width="3.0"/>
<line x1="1160.3" y1="4531.0" x2="1160.3" y2="4554.0" stroke="#111111" stroke-width="3.0"/>
<text x="1160.3" y="4605.5" font-size="45" fill="#111111" text-anchor="middle" font-family='"Liberation Sans", Arial, sans-serif' textLength="76.0" lengthAdjust="spacingAndGlyphs">600</text>
<line x1="1303.2" y1="4531.0" x2="1303.2" y2="4542.0" stroke="#111111" stroke-width="3.0"/>
<line x1="1446.1" y1="4531.0" x2="1446.1" y2="4554.0" stroke="#111111" stroke-width="3.0"/>
<text x="1446.1" y="4605.5" font-size="45" fill="#111111" text-anchor="middle" font-family='"Liberation Sans", Arial, sans-serif' textLength="76.0" lengthAdjust="spacingAndGlyphs">800</text>
<line x1="1589.0" y1="4531.0" x2="1589.0" y2="4542.0" stroke="#111111" stroke-width="3.0"/>
<text x="1030.0" y="4701.0" font-size="52.5" fill="#111111" text-anchor="middle" font-family='"Liberation Sans", Arial, sans-serif' textLength="449.0" lengthAdjust="spacingAndGlyphs">Temperature (°C)</text>
<text x="187.0" y="3980.0" font-size="58" fill="#111111" text-anchor="middle" font-family='"Liberation Sans", Arial, sans-serif' transform="rotate(-90 187.0 3980.0)" textLength="280.6" lengthAdjust="spacingAndGlyphs">Weight (%)</text>
<text x="1861.4" y="3978.7" font-size="58" fill="#f52a2a" text-anchor="middle" font-family='"Liberation Sans", Arial, sans-serif' transform="rotate(-90 1861.4 3978.7)" textLength="709.0" lengthAdjust="spacingAndGlyphs">Derivative weight % (%/min)</text>
<text x="431.5" y="3575.0" font-size="41" fill="#111111" text-anchor="start" font-family='"Liberation Sans", Arial, sans-serif' textLength="257.0" lengthAdjust="spacingAndGlyphs">66.3°C;97.3%</text>
<text x="682.5" y="3854.0" font-size="41" fill="#111111" text-anchor="start" font-family='"Liberation Sans", Arial, sans-serif' textLength="244.0" lengthAdjust="spacingAndGlyphs">257°C;69.2%</text>
<text x="1395.5" y="4255.0" font-size="41" fill="#111111" text-anchor="start" font-family='"Liberation Sans", Arial, sans-serif' textLength="241.5" lengthAdjust="spacingAndGlyphs">755°C;33.0%</text>
<line x1="373.5" y1="3476.0" x2="455.0" y2="3476.0" stroke="#111111" stroke-width="2.6"/>
<line x1="373.5" y1="3520.0" x2="455.0" y2="3520.0" stroke="#f52a2a" stroke-width="2.0"/>
<text x="467.5" y="3486.0" font-size="37" fill="#111111" text-anchor="start" font-family='"Liberation Sans", Arial, sans-serif' textLength="73.5" lengthAdjust="spacingAndGlyphs">TGA</text>
<text x="467.5" y="3531.0" font-size="37" fill="#f52a2a" text-anchor="start" font-family='"Liberation Sans", Arial, sans-serif' textLength="75.5" lengthAdjust="spacingAndGlyphs">DTG</text>
<text x="990" y="4871.5" font-size="85" fill="#111" text-anchor="middle" font-family='"Liberation Serif", "Times New Roman", serif'>(<tspan font-weight="bold">C</tspan>)</text>
</svg>
</body></html>
